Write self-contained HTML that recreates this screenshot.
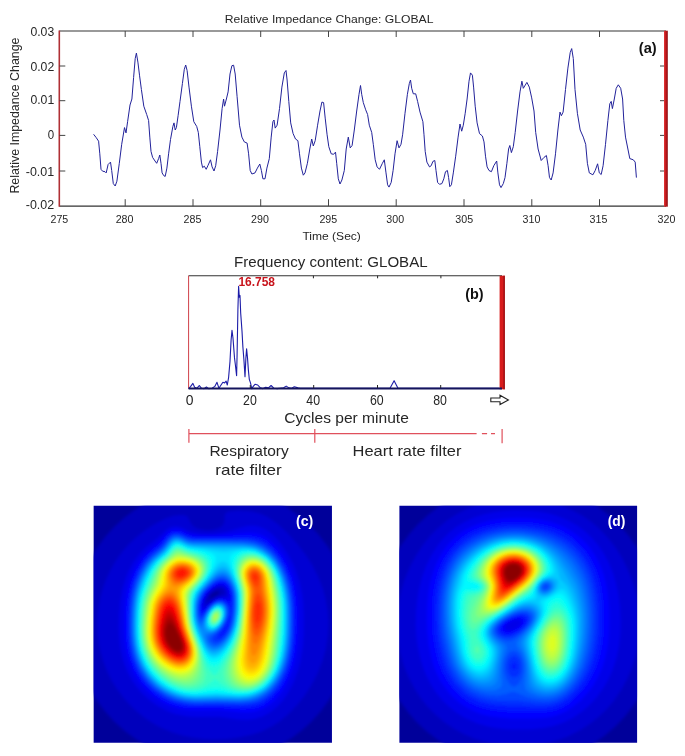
<!DOCTYPE html>
<html lang="en"><head><meta charset="utf-8"><title>EIT figure</title>
<style>html,body{margin:0;padding:0;background:#fff}svg{display:block}</style></head>
<body>
<svg width="685" height="756" viewBox="0 0 685 756" font-family="'Liberation Sans', sans-serif">
<defs><filter id="blur" x="-5%" y="-5%" width="110%" height="110%"><feGaussianBlur stdDeviation="1.6"/></filter><linearGradient id="rb" x1="0" x2="1" y1="0" y2="0"><stop offset="0" stop-color="#e23a3a"/><stop offset="0.45" stop-color="#c4181c"/><stop offset="1" stop-color="#860c10"/></linearGradient></defs>
<rect width="685" height="756" fill="#fff"/>
<g stroke="#777" stroke-width="1.3" fill="none"><line x1="59.3" y1="31" x2="666" y2="31"/></g>
<line x1="59.3" y1="206.2" x2="666" y2="206.2" stroke="#333" stroke-width="1.2"/>
<line x1="59.3" y1="30.5" x2="59.3" y2="206.7" stroke="#b03035" stroke-width="1.6"/>
<rect x="664" y="30.7" width="3.8" height="176.0" fill="url(#rb)"/>
<path d="M125.2 206.2v-7M125.2 31v6M193.0 206.2v-7M193.0 31v6M260.7 206.2v-7M260.7 31v6M328.5 206.2v-7M328.5 31v6M396.2 206.2v-7M396.2 31v6M464.0 206.2v-7M464.0 31v6M531.8 206.2v-7M531.8 31v6M599.5 206.2v-7M599.5 31v6M59.3 66h6M664 66h-4M59.3 100.7h6M664 100.7h-4M59.3 135.4h6M664 135.4h-4M59.3 171h6M664 171h-4" stroke="#444" stroke-width="1" fill="none"/>
<text x="59.4" y="222.9" font-size="11.3" text-anchor="middle" font-weight="normal" fill="#262626" textLength="17.8" lengthAdjust="spacingAndGlyphs">275</text>
<text x="124.6" y="222.9" font-size="11.3" text-anchor="middle" font-weight="normal" fill="#262626" textLength="17.8" lengthAdjust="spacingAndGlyphs">280</text>
<text x="192.5" y="222.9" font-size="11.3" text-anchor="middle" font-weight="normal" fill="#262626" textLength="17.8" lengthAdjust="spacingAndGlyphs">285</text>
<text x="260" y="222.9" font-size="11.3" text-anchor="middle" font-weight="normal" fill="#262626" textLength="17.8" lengthAdjust="spacingAndGlyphs">290</text>
<text x="328.3" y="222.9" font-size="11.3" text-anchor="middle" font-weight="normal" fill="#262626" textLength="17.8" lengthAdjust="spacingAndGlyphs">295</text>
<text x="395.2" y="222.9" font-size="11.3" text-anchor="middle" font-weight="normal" fill="#262626" textLength="17.8" lengthAdjust="spacingAndGlyphs">300</text>
<text x="464.2" y="222.9" font-size="11.3" text-anchor="middle" font-weight="normal" fill="#262626" textLength="17.8" lengthAdjust="spacingAndGlyphs">305</text>
<text x="531.5" y="222.9" font-size="11.3" text-anchor="middle" font-weight="normal" fill="#262626" textLength="17.8" lengthAdjust="spacingAndGlyphs">310</text>
<text x="598.5" y="222.9" font-size="11.3" text-anchor="middle" font-weight="normal" fill="#262626" textLength="17.8" lengthAdjust="spacingAndGlyphs">315</text>
<text x="666.5" y="222.9" font-size="11.3" text-anchor="middle" font-weight="normal" fill="#262626" textLength="17.8" lengthAdjust="spacingAndGlyphs">320</text>
<text x="54.2" y="36.1" font-size="12" text-anchor="end" font-weight="normal" fill="#262626" textLength="23.8" lengthAdjust="spacingAndGlyphs">0.03</text>
<text x="54.2" y="70.5" font-size="12" text-anchor="end" font-weight="normal" fill="#262626" textLength="23.8" lengthAdjust="spacingAndGlyphs">0.02</text>
<text x="54.2" y="104.4" font-size="12" text-anchor="end" font-weight="normal" fill="#262626" textLength="23.8" lengthAdjust="spacingAndGlyphs">0.01</text>
<text x="54.2" y="139.3" font-size="12" text-anchor="end" font-weight="normal" fill="#262626" textLength="6.4" lengthAdjust="spacingAndGlyphs">0</text>
<text x="54.2" y="175.5" font-size="12" text-anchor="end" font-weight="normal" fill="#262626" textLength="28.4" lengthAdjust="spacingAndGlyphs">-0.01</text>
<text x="54.2" y="209.4" font-size="12" text-anchor="end" font-weight="normal" fill="#262626" textLength="28.4" lengthAdjust="spacingAndGlyphs">-0.02</text>
<text x="224.7" y="23.2" font-size="11.3" text-anchor="start" font-weight="normal" fill="#262626" textLength="208.8" lengthAdjust="spacingAndGlyphs">Relative Impedance Change: GLOBAL</text>
<text x="302.4" y="240" font-size="11.3" text-anchor="start" font-weight="normal" fill="#262626" textLength="58.5" lengthAdjust="spacingAndGlyphs">Time (Sec)</text>
<text transform="translate(18.9,193.6) rotate(-90)" font-size="12" fill="#262626" textLength="156" lengthAdjust="spacingAndGlyphs">Relative Impedance Change</text>
<text x="638.8" y="53" font-size="15.3" text-anchor="start" font-weight="bold" fill="#111" textLength="17.9" lengthAdjust="spacingAndGlyphs">(a)</text>
<polyline fill="none" stroke="#22229a" stroke-width="1" stroke-linejoin="round" points="93.6,134.3 96.2,137.6 98.6,141.2 99.8,153.8 101.0,169.3 102.6,171.2 105.0,171.7 106.2,172.9 108.1,164.5 110.5,162.1 111.7,170.5 113.3,183.6 115.2,186.0 116.9,181.2 119.3,163.3 121.7,144.3 124.5,127.6 126.0,132.9 127.6,121.7 130.0,105.0 131.9,99.0 133.6,77.6 135.2,58.6 136.4,53.1 137.9,62.1 139.5,75.2 141.4,89.5 143.8,106.2 146.7,114.5 148.6,120.5 149.8,137.1 151.0,151.4 152.6,157.4 155.0,161.0 156.7,163.3 158.6,158.6 159.8,155.0 161.0,163.3 162.1,172.9 163.8,175.7 165.2,176.4 166.9,168.1 168.6,153.8 170.5,139.5 172.9,126.4 174.0,122.9 175.2,130.0 176.4,127.6 178.1,115.7 180.0,101.4 182.4,83.6 184.3,69.3 185.7,65.0 187.1,70.5 189.0,87.1 191.4,106.2 193.8,121.7 196.7,126.4 198.3,132.4 199.8,146.7 201.4,162.1 202.6,167.6 204.3,166.2 206.2,169.3 208.1,165.2 210.5,159.8 212.1,166.9 214.0,171.0 215.7,165.7 217.6,151.4 220.0,130.0 222.1,108.6 223.6,99.0 224.5,106.2 226.4,99.0 228.1,91.9 230.0,74.0 231.9,65.7 233.6,65.2 235.2,74.0 237.1,96.7 239.5,125.2 241.9,137.1 244.3,141.9 247.1,143.1 248.6,153.8 250.2,170.5 251.9,174.0 255.0,172.9 257.4,168.1 259.8,164.0 261.4,170.5 262.9,178.8 265.0,178.8 266.9,168.1 269.3,158.6 271.2,137.1 272.9,121.7 274.0,120.0 275.2,128.1 277.1,125.2 279.5,108.6 281.9,87.1 284.3,72.9 286.0,70.5 287.1,80.0 288.8,101.4 290.7,122.9 293.1,133.6 295.5,139.0 297.9,140.7 299.5,153.8 301.4,168.1 303.3,175.2 305.0,172.9 307.4,163.3 309.8,149.0 311.7,139.0 313.3,146.0 315.2,140.7 317.6,125.2 320.0,111.0 321.9,102.1 323.6,102.6 325.2,118.1 327.1,134.8 328.8,146.7 331.2,153.8 333.6,154.3 335.5,152.1 336.7,163.3 338.3,178.8 340.0,184.0 341.9,180.0 344.3,170.5 346.2,149.0 348.3,137.1 350.2,147.9 352.1,145.5 354.3,130.0 356.7,111.0 359.0,94.3 360.5,85.5 361.7,94.3 363.3,102.6 365.7,109.8 367.6,114.5 369.3,125.2 371.7,132.4 373.3,144.3 375.2,159.8 377.1,166.9 379.5,169.3 382.4,163.3 384.3,159.8 386.0,172.9 387.6,184.8 389.0,187.1 391.2,182.4 393.1,170.5 395.0,153.8 397.1,140.7 399.0,147.9 401.0,144.3 402.6,134.8 405.0,113.3 407.4,94.3 409.3,83.6 410.5,80.0 411.7,88.3 413.3,93.8 415.7,93.8 417.6,101.4 420.0,112.1 422.9,121.7 424.0,134.8 425.2,151.4 426.9,162.1 429.5,166.9 431.2,165.7 432.9,161.4 434.8,160.5 436.0,170.5 437.6,182.4 439.5,184.3 441.9,183.6 443.8,178.8 445.5,171.7 447.4,170.5 448.6,177.6 449.8,186.7 451.4,184.8 453.3,172.9 455.7,156.2 458.1,137.1 460.0,124.0 461.7,131.2 463.3,125.2 465.2,113.3 467.1,99.0 469.0,81.2 470.5,72.9 472.4,75.2 473.6,87.1 475.2,106.2 477.1,122.9 479.5,133.6 482.4,136.0 484.0,141.9 485.5,156.2 487.1,166.9 489.0,170.5 491.4,171.7 493.8,165.7 496.7,161.0 497.9,172.9 499.5,184.8 501.0,187.6 503.3,183.6 505.0,177.6 506.9,163.3 508.6,149.0 509.8,145.5 511.4,152.6 513.3,146.7 515.2,132.4 517.6,111.0 520.0,91.9 521.9,81.2 523.3,88.3 526.9,82.4 529.3,87.1 531.7,97.9 534.0,111.0 535.7,132.4 538.1,149.0 541.2,160.5 544.0,157.4 546.4,155.5 548.1,165.7 549.5,177.6 551.2,180.0 553.1,172.9 555.5,153.8 557.9,130.0 560.0,112.1 561.4,115.7 563.1,112.1 565.5,89.5 567.9,68.1 570.2,52.6 571.7,48.6 573.3,58.6 575.0,89.5 577.4,113.3 580.2,130.0 583.3,137.1 585.7,144.3 587.4,163.3 589.3,172.9 592.9,174.8 595.2,170.5 597.6,163.8 599.3,172.9 601.2,174.5 603.1,165.7 605.5,144.3 607.9,120.5 609.8,103.8 611.2,101.4 612.4,108.6 614.3,99.0 616.2,88.3 618.3,84.8 620.7,88.3 622.6,99.0 623.8,120.5 625.5,137.1 627.9,149.0 629.8,158.6 633.3,159.8 635.2,162.1 636.4,177.6"/>
<line x1="188.6" y1="275.7" x2="502" y2="275.7" stroke="#333" stroke-width="1.1"/>
<line x1="188.6" y1="275.7" x2="188.6" y2="388.5" stroke="#d04048" stroke-width="1"/>
<rect x="499.6" y="275.7" width="5.2" height="113.60000000000001" fill="#d81c1c"/><rect x="503.4" y="275.7" width="1.4" height="113.60000000000001" fill="#9c1214"/>
<polyline fill="none" stroke="#1c1ca8" stroke-width="1.1" stroke-linejoin="round" points="188.6,388.8 190.7,386.4 192.9,383.4 194.6,387.3 197.0,388.2 199.3,385.5 201.4,388.2 204.1,388.6 206.4,387.0 208.6,388.6 212.1,388.2 214.8,386.4 217.0,382.3 218.9,388.2 220.7,385.5 222.9,382.3 224.6,382.9 226.1,381.1 227.3,385.0 228.6,377.5 230.0,361.4 231.1,340.0 232.0,330.2 233.0,338.2 234.5,357.9 235.4,365.0 236.6,375.7 237.1,354.3 237.9,309.6 238.6,286.4 239.3,297.1 240.0,295.4 240.7,313.2 242.0,331.1 242.9,347.1 243.9,359.6 245.0,376.6 245.9,357.9 246.6,348.9 247.5,357.9 248.4,370.4 249.3,379.3 250.5,382.9 251.8,388.8 253.2,386.4 255.0,384.3 257.7,385.0 260.4,387.9 263.0,388.6 265.7,387.3 268.4,387.9 271.1,385.5 273.8,388.2 277.3,388.6 280.0,388.2 283.6,387.7 286.2,386.1 288.9,387.9 291.6,388.2 294.3,386.8 297.9,387.9 300.0,388.2 388,388.3 390,388.3 394.1,380.7 398,388.3 499,388.3"/>
<line x1="188.6" y1="388.5" x2="502" y2="388.5" stroke="#14145c" stroke-width="1.8"/>
<path d="M250.3 388v-3M313.7 388v-3M377.5 388v-3M440.7 388v-3M313.4 275.7v2.6M377.6 275.7v2.6M440.9 275.7v2.6" stroke="#222" stroke-width="1" fill="none"/>
<text x="238.4" y="286" font-size="12.2" text-anchor="start" font-weight="bold" fill="#c8141c" textLength="36.6" lengthAdjust="spacingAndGlyphs">16.758</text>
<text x="465.2" y="299.3" font-size="15.3" text-anchor="start" font-weight="bold" fill="#111" textLength="18.4" lengthAdjust="spacingAndGlyphs">(b)</text>
<text x="234.1" y="267" font-size="14.8" text-anchor="start" font-weight="normal" fill="#262626" textLength="193.5" lengthAdjust="spacingAndGlyphs">Frequency content: GLOBAL</text>
<text x="189.7" y="405.3" font-size="13.9" text-anchor="middle" font-weight="normal" fill="#262626">0</text>
<text x="249.9" y="405.3" font-size="13.9" text-anchor="middle" font-weight="normal" fill="#262626" textLength="13.7" lengthAdjust="spacingAndGlyphs">20</text>
<text x="313.2" y="405.3" font-size="13.9" text-anchor="middle" font-weight="normal" fill="#262626" textLength="13.7" lengthAdjust="spacingAndGlyphs">40</text>
<text x="376.8" y="405.3" font-size="13.9" text-anchor="middle" font-weight="normal" fill="#262626" textLength="13.7" lengthAdjust="spacingAndGlyphs">60</text>
<text x="440.1" y="405.3" font-size="13.9" text-anchor="middle" font-weight="normal" fill="#262626" textLength="13.7" lengthAdjust="spacingAndGlyphs">80</text>
<text x="284.3" y="422.8" font-size="14.6" text-anchor="start" font-weight="normal" fill="#262626" textLength="124.5" lengthAdjust="spacingAndGlyphs">Cycles per minute</text>
<path d="M490.8 398h9.2v-2.8l8.4 4.7-8.4 4.7v-2.8h-9.2z" fill="#fff" stroke="#222" stroke-width="1.1" stroke-linejoin="miter"/>
<path d="M188.9 433.6H476.6M481.9 433.6h5.2M491 433.6h4M188.9 429.1v13.7M314.8 429.1v13.7M502.1 429.1v14.2" stroke="#e0505c" stroke-width="1.2" fill="none"/>
<text x="209.4" y="456.4" font-size="14.6" text-anchor="start" font-weight="normal" fill="#262626" textLength="79.4" lengthAdjust="spacingAndGlyphs">Respiratory</text>
<text x="215.2" y="474.6" font-size="14.6" text-anchor="start" font-weight="normal" fill="#262626" textLength="66.5" lengthAdjust="spacingAndGlyphs">rate filter</text>
<text x="352.6" y="456.4" font-size="14.6" text-anchor="start" font-weight="normal" fill="#262626" textLength="108.8" lengthAdjust="spacingAndGlyphs">Heart rate filter</text>
<clipPath id="hcc"><rect x="93.65" y="505.65" width="238.3" height="237.1"/></clipPath>
<g clip-path="url(#hcc)"><rect x="73.65" y="485.65" width="278.3" height="277.1" fill="#00009a"/><g filter="url(#blur)">
<path fill="#0000bc" fill-rule="evenodd" d="M255.3 755.8L170.3 755.8L160.6 752.3L148.5 746.7L136.4 739.6L125.4 731.6L114.6 722.0L105.8 712.3L98.4 702.7L91.0 690.6L85.1 678.5L80.6 666.5L80.6 581.9L84.1 572.3L89.7 560.2L96.8 548.2L104.8 537.2L114.5 526.5L124.2 517.7L133.9 510.4L146.1 503.0L158.2 497.1L170.3 492.6L257.0 492.6L265.0 495.5L274.7 499.9L286.8 507.0L298.9 515.7L308.6 524.1L318.3 534.3L327.2 545.7L334.6 557.8L340.5 569.9L345.0 581.9L345.0 666.5L341.5 676.1L335.9 688.2L328.8 700.2L320.8 711.2L311.1 721.9L301.4 730.7L291.7 738.0L279.5 745.5L267.4 751.4ZM209.2 598.9L218.5 594.0L219.5 591.6L216.4 591.3L211.8 594.0L210.0 596.4Z"/>
<path fill="#0000d3" fill-rule="evenodd" d="M226.1 738.9L214.0 739.4L204.3 739.1L192.2 737.6L182.5 735.5L172.8 732.5L163.1 728.5L155.1 724.4L146.1 718.7L137.8 712.3L130.0 705.1L123.5 697.8L117.0 689.1L111.9 680.9L107.1 671.3L103.3 661.6L100.5 652.0L98.5 642.3L97.4 632.6L97.1 620.6L97.9 610.9L99.9 598.9L102.5 589.2L106.0 579.5L110.5 569.9L116.2 560.2L121.8 552.3L129.1 543.9L136.4 536.9L146.1 529.4L154.7 524.0L165.5 518.5L172.8 516.0L180.0 514.9L184.9 515.3L187.5 516.8L191.3 524.0L193.5 526.4L198.1 528.8L206.7 530.2L211.6 530.0L216.4 529.1L221.7 526.4L223.7 524.0L224.5 521.6L224.7 514.4L226.1 512.8L228.6 511.6L238.3 510.5L250.4 511.2L260.1 513.5L267.4 516.8L277.1 523.4L285.7 531.3L296.7 543.3L306.1 555.4L312.3 565.1L318.3 576.9L323.0 589.2L325.6 598.7L327.7 610.9L328.5 623.0L328.0 635.1L325.7 649.5L322.2 661.6L317.4 673.7L311.0 685.8L304.7 695.4L297.1 705.1L287.7 714.7L279.5 721.4L269.8 727.6L260.1 732.0L250.4 735.0L238.3 737.4ZM206.8 603.7L216.4 597.3L224.3 594.0L224.7 591.6L223.7 589.8L221.3 588.2L218.9 588.0L215.2 589.2L211.6 591.5L209.0 594.0L206.0 598.9L205.4 601.3L206.5 603.7Z"/>
<path fill="#0000e9" fill-rule="evenodd" d="M248.0 719.7L238.3 719.4L218.9 716.7L197.0 716.9L187.3 716.4L175.2 713.9L167.9 711.2L158.2 706.2L153.4 702.9L148.5 699.2L141.8 693.0L137.6 688.2L132.4 680.9L128.4 673.7L125.2 666.4L122.8 659.2L120.5 649.5L119.1 637.5L118.7 627.8L119.0 615.8L120.2 601.3L122.4 589.2L125.2 579.5L128.0 572.3L133.0 562.6L140.1 553.0L146.1 547.0L158.2 537.5L165.5 530.3L170.3 527.3L175.2 526.3L177.6 526.4L182.5 527.7L189.4 531.3L192.2 532.1L199.5 533.4L209.2 533.8L216.4 533.3L228.3 531.3L240.7 527.4L248.0 525.8L255.3 525.8L260.1 526.9L265.0 529.1L269.8 532.2L274.7 536.5L278.7 540.9L284.1 548.2L288.7 555.4L292.5 562.6L295.7 569.9L299.6 582.0L302.1 594.0L303.3 603.7L303.9 618.2L303.7 635.1L302.8 647.1L300.4 661.6L297.8 671.3L293.2 683.3L288.1 693.0L283.1 700.2L277.1 706.8L269.8 712.6L262.5 716.5L255.3 718.8ZM206.5 606.1L211.6 601.8L216.4 598.8L218.9 597.7L226.6 596.4L227.6 594.0L227.3 591.6L226.1 589.0L223.7 586.7L221.3 585.9L218.9 586.0L216.4 586.7L211.6 589.7L207.3 594.0L204.3 598.9L203.2 603.7L203.5 606.1L204.3 607.2Z"/>
<path fill="#0001ff" fill-rule="evenodd" d="M248.0 712.4L240.7 712.2L218.9 710.0L197.0 710.6L189.7 710.3L180.0 708.9L170.3 705.9L165.5 703.7L158.2 699.6L150.9 694.3L146.1 689.8L140.5 683.3L137.1 678.5L133.0 671.3L130.9 666.4L127.6 656.8L125.6 647.1L124.7 639.9L124.3 630.2L124.5 615.8L125.2 603.7L127.1 591.6L129.6 582.0L132.2 574.7L135.6 567.5L141.9 557.8L148.5 550.9L158.2 543.0L166.7 533.7L170.3 531.0L172.8 530.0L175.2 529.5L180.0 530.1L189.7 534.4L199.5 535.7L216.4 535.7L248.0 532.6L255.3 533.0L260.1 534.2L265.0 536.5L269.8 539.9L277.1 547.3L281.4 553.0L285.9 560.2L290.4 569.9L293.0 577.1L296.0 589.2L297.6 601.3L298.2 613.3L298.1 632.6L297.3 644.7L295.6 656.8L292.6 668.9L290.0 676.1L285.6 685.8L281.0 693.0L274.7 700.5L269.8 704.7L262.5 709.1L255.3 711.5ZM205.5 608.5L211.6 602.9L216.4 599.7L221.3 598.6L228.6 599.3L229.6 596.4L229.6 594.0L228.6 589.9L226.1 586.3L223.7 584.6L221.3 584.1L218.9 584.3L214.0 586.4L207.9 591.6L204.3 596.4L201.7 603.7L201.9 609.1L204.3 609.7Z"/>
<path fill="#0017ff" fill-rule="evenodd" d="M252.8 707.7L243.1 708.5L218.9 707.0L192.2 707.3L182.5 706.2L175.2 704.3L167.9 701.5L163.1 699.1L155.8 694.4L150.9 690.4L146.3 685.8L142.2 680.9L137.4 673.7L134.9 668.9L132.0 661.6L129.8 654.4L128.0 644.7L127.1 635.1L127.0 620.6L127.7 606.1L128.5 598.9L130.9 586.8L133.1 579.5L137.2 569.9L143.3 560.2L149.9 553.0L160.6 544.0L167.9 535.3L172.8 532.3L175.2 531.8L180.0 532.3L188.4 536.1L194.6 537.2L211.6 537.5L245.6 536.3L252.8 536.7L257.7 537.7L262.5 539.6L267.4 542.5L273.7 548.2L281.3 557.8L286.5 567.5L290.2 577.1L292.8 586.8L294.7 598.9L295.3 606.1L295.6 623.0L295.2 637.5L293.5 652.0L292.1 659.2L290.3 666.4L285.7 678.5L281.7 685.8L277.1 692.4L272.1 697.8L265.0 703.2L257.7 706.5ZM204.8 610.9L211.6 603.9L216.4 600.7L218.9 599.9L221.3 599.7L223.7 600.1L228.6 603.0L231.0 601.9L231.4 596.4L230.6 591.6L228.6 586.9L226.1 584.2L223.7 582.8L221.3 582.4L216.4 583.6L211.6 586.7L206.5 591.6L204.3 594.5L202.0 598.9L200.4 606.1L200.9 610.9L201.9 612.9L204.3 611.7Z"/>
<path fill="#002eff" fill-rule="evenodd" d="M250.4 705.2L243.1 705.8L218.9 704.9L194.6 705.2L184.9 704.4L175.2 702.0L167.9 699.2L163.1 696.7L153.4 689.8L144.7 680.9L139.7 673.7L137.1 668.9L133.2 659.2L130.7 649.5L129.6 642.3L129.0 632.6L128.9 620.6L129.6 606.1L130.7 596.4L132.8 586.8L135.1 579.5L138.2 572.3L142.2 565.1L145.6 560.2L150.9 554.5L160.6 546.4L167.9 537.6L170.3 535.4L172.8 534.1L175.2 533.5L180.0 534.1L187.3 537.3L192.2 538.6L209.2 539.0L245.6 538.6L252.8 539.3L257.7 540.5L265.0 543.9L269.8 547.5L273.0 550.6L280.5 560.2L285.5 569.9L288.3 577.1L290.9 586.8L292.6 596.4L293.4 606.1L293.7 623.0L293.3 637.5L292.3 647.1L290.1 659.2L287.3 668.9L283.2 678.5L279.0 685.8L274.7 691.5L269.8 696.3L262.5 701.4L257.7 703.5ZM220.4 637.5L223.7 635.2L226.1 632.1L228.6 627.6L231.0 618.7L232.7 598.9L231.8 591.6L231.0 589.1L228.6 584.7L226.1 582.3L223.7 581.1L221.3 580.8L218.9 581.2L214.0 583.6L209.2 587.5L205.3 591.6L202.0 596.4L201.0 598.9L199.7 603.7L199.2 608.5L199.9 613.3L201.9 615.6L204.3 613.5L210.2 606.1L214.0 602.8L216.4 601.5L218.9 600.8L221.3 600.6L223.7 601.3L226.9 603.7L229.7 608.5L230.3 613.3L229.8 615.8L228.6 616.8L227.7 620.6L225.1 625.4L218.3 635.1L217.8 637.5L218.9 638.0Z"/>
<path fill="#0044ff" fill-rule="evenodd" d="M250.4 703.1L240.7 703.9L218.9 703.2L194.6 703.6L187.3 703.0L177.6 701.0L172.8 699.4L165.5 696.1L158.2 691.6L153.4 687.7L148.9 683.3L144.9 678.5L140.1 671.3L137.7 666.4L134.8 659.2L132.8 652.0L131.1 642.3L130.4 632.6L130.4 618.2L131.1 606.1L132.2 596.4L134.4 586.8L136.8 579.5L139.9 572.3L145.7 562.6L150.9 556.6L163.1 545.9L168.9 538.5L172.8 535.6L175.2 534.9L177.6 534.9L180.0 535.5L187.3 538.8L192.2 539.9L240.7 540.2L248.0 540.6L255.3 541.9L262.5 544.7L269.8 549.9L276.9 557.8L282.8 567.5L285.9 574.7L288.8 584.4L290.7 594.0L291.9 606.1L292.2 620.6L291.8 635.1L290.8 647.1L288.5 659.2L285.6 668.9L282.5 676.1L278.5 683.3L272.9 690.6L267.4 695.6L262.5 698.9L257.7 701.2ZM221.2 639.9L223.7 637.7L226.1 634.8L228.6 630.8L231.0 624.7L233.4 610.9L233.8 601.3L233.4 594.0L231.0 586.5L228.6 582.7L226.1 580.5L223.7 579.4L221.3 579.2L218.9 579.7L214.0 582.2L209.2 586.2L204.1 591.6L201.9 594.9L200.0 598.9L198.8 603.7L198.3 608.5L198.6 613.3L199.5 616.7L201.9 618.0L211.0 606.1L216.4 602.2L218.9 601.6L221.3 601.6L223.7 602.5L226.1 604.9L227.8 608.5L228.1 610.9L227.7 615.8L227.0 618.2L225.0 623.0L222.1 627.8L213.4 637.5L213.1 639.9L214.0 641.0L216.4 641.7L218.9 641.2Z"/>
<path fill="#005bff" fill-rule="evenodd" d="M252.8 700.8L248.0 701.8L240.7 702.3L216.4 701.8L197.0 702.2L187.3 701.6L177.6 699.5L170.3 696.9L165.5 694.5L155.8 687.9L150.9 683.4L146.6 678.5L140.3 668.9L137.1 661.6L134.7 654.4L132.7 644.7L131.9 637.5L131.6 625.4L132.1 608.5L133.1 598.9L135.1 589.2L137.3 582.0L140.2 574.7L144.0 567.5L147.3 562.6L153.4 556.0L162.6 548.2L168.3 540.9L170.3 538.7L172.8 537.0L175.2 536.2L177.6 536.2L180.0 536.8L187.3 540.1L192.2 541.2L240.7 541.7L248.0 542.2L255.3 543.6L262.5 546.5L269.8 551.8L275.3 557.8L281.4 567.5L285.4 577.1L287.5 584.4L289.4 594.0L290.6 603.7L291.0 618.2L290.6 635.1L289.8 644.7L287.8 656.8L285.8 664.0L283.2 671.3L278.3 680.9L274.7 686.1L269.8 691.4L265.0 695.3L257.7 699.3ZM220.6 642.3L223.7 639.7L226.1 636.9L228.6 633.1L231.0 627.9L233.5 618.2L234.7 603.7L234.5 596.4L233.8 591.6L231.0 584.2L228.6 580.8L226.1 578.7L223.7 577.7L221.3 577.5L218.9 578.1L214.0 580.8L207.2 586.8L203.0 591.6L201.4 594.0L199.1 598.9L198.0 603.7L197.5 608.5L197.6 613.3L198.8 618.2L199.5 620.0L201.9 620.7L207.7 610.9L211.6 606.3L214.0 604.3L216.4 603.0L218.9 602.3L221.3 602.4L223.8 603.7L225.8 606.1L226.7 608.5L227.1 613.3L225.2 620.6L222.7 625.4L218.9 630.2L210.2 637.5L209.9 639.9L211.0 642.3L214.0 644.1L216.4 644.2Z"/>
<path fill="#0072ff" fill-rule="evenodd" d="M248.0 700.3L238.3 701.0L216.4 700.5L194.6 700.9L184.9 699.9L177.6 698.2L167.9 694.3L160.6 690.0L155.8 686.3L150.9 681.7L146.3 676.1L140.4 666.4L137.4 659.2L135.3 652.0L133.5 642.3L132.8 635.1L132.6 625.4L133.1 610.9L134.3 598.9L135.7 591.6L137.7 584.4L140.4 577.1L144.0 569.9L147.0 565.1L153.1 557.8L163.1 549.2L169.6 540.9L172.8 538.3L175.2 537.4L177.6 537.4L180.0 538.0L187.3 541.3L192.2 542.3L240.7 543.0L248.0 543.6L255.3 545.0L262.5 548.1L269.8 553.5L275.7 560.2L281.3 569.9L285.0 579.5L287.5 589.2L289.0 598.9L289.7 608.5L289.8 625.4L289.3 637.5L288.0 649.5L286.0 659.2L283.8 666.4L280.8 673.7L276.8 680.9L271.1 688.2L265.0 693.6L260.1 696.6L255.3 698.6ZM219.7 644.7L223.7 641.6L226.1 638.7L228.6 635.1L231.0 630.3L233.9 620.6L235.5 606.1L235.4 596.4L234.6 591.6L233.2 586.8L231.0 582.2L228.6 578.9L226.1 576.8L223.7 575.9L221.3 575.8L216.4 577.7L211.6 581.4L203.8 589.2L201.9 591.7L199.2 596.4L197.6 601.3L196.7 608.5L196.7 613.3L197.5 618.2L199.5 623.0L201.9 623.8L205.5 615.8L208.4 610.9L211.6 607.0L214.0 605.0L216.4 603.7L218.9 603.0L221.3 603.2L223.7 604.7L224.8 606.1L225.8 608.5L226.2 613.3L225.3 618.2L223.2 623.0L219.9 627.8L216.4 631.3L209.2 635.1L207.3 637.5L207.5 639.9L208.5 642.3L211.6 645.6L214.0 646.3L216.4 646.2Z"/>
<path fill="#0088ff" fill-rule="evenodd" d="M252.8 698.0L248.0 699.1L240.7 699.7L216.4 699.3L197.0 699.8L187.3 699.1L177.6 697.0L170.3 694.2L165.5 691.7L160.6 688.6L155.8 684.7L147.7 676.1L141.7 666.4L138.6 659.2L136.4 652.0L134.9 644.7L133.9 635.1L133.7 623.0L134.3 608.5L135.3 598.9L136.8 591.6L138.9 584.4L141.7 577.1L145.3 569.9L148.3 565.1L153.4 559.1L163.1 550.6L170.3 541.6L172.8 539.5L175.2 538.6L177.6 538.5L180.0 539.1L187.3 542.4L192.2 543.4L243.1 544.4L250.4 545.2L255.3 546.3L262.5 549.4L269.8 555.0L274.4 560.2L279.0 567.5L283.1 577.1L285.3 584.4L287.3 594.0L288.4 603.7L288.8 615.8L288.5 632.6L287.6 644.7L286.0 654.4L283.5 664.0L280.7 671.3L278.4 676.1L273.7 683.3L269.8 687.8L265.0 692.1L257.7 696.3ZM218.8 647.1L221.3 645.5L226.1 640.5L231.0 632.4L234.1 623.0L236.0 610.9L236.1 596.4L235.4 591.6L234.1 586.8L231.0 580.2L228.6 576.9L226.1 574.9L223.7 573.9L221.3 573.9L216.4 576.0L209.2 582.4L202.8 589.2L199.5 593.9L198.3 596.4L196.8 601.3L196.1 606.1L196.0 613.3L197.0 620.4L199.5 626.0L201.9 628.3L206.3 615.8L209.0 610.9L211.6 607.7L214.0 605.6L216.4 604.3L218.9 603.7L221.3 604.1L223.9 606.1L225.1 608.5L225.6 610.9L225.3 615.8L223.7 620.6L221.3 624.9L218.9 628.0L214.0 631.7L209.2 633.1L206.7 633.2L204.9 635.1L205.1 637.5L206.6 642.3L209.2 646.1L211.6 647.8L214.0 648.3L216.4 648.1Z"/>
<path fill="#009fff" fill-rule="evenodd" d="M248.0 697.9L238.3 698.7L216.4 698.1L194.6 698.6L184.9 697.6L177.6 695.8L172.8 694.1L165.8 690.6L160.6 687.2L155.9 683.3L151.1 678.5L147.3 673.7L141.7 664.0L139.6 659.2L137.3 652.0L135.8 644.7L134.8 635.1L134.6 623.0L135.2 608.5L136.0 601.3L137.8 591.6L140.0 584.4L142.8 577.1L146.5 569.9L149.6 565.1L153.6 560.2L164.4 550.6L170.3 543.0L172.8 540.8L175.2 539.7L177.6 539.5L180.0 540.2L187.3 543.5L192.2 544.5L216.4 545.4L243.1 545.6L250.4 546.3L255.3 547.5L262.5 550.7L268.8 555.4L275.0 562.6L279.1 569.9L282.9 579.5L284.9 586.8L286.6 596.4L287.6 606.1L287.8 623.0L287.2 637.5L285.8 649.5L283.8 659.2L281.5 666.4L278.5 673.7L274.1 680.9L269.8 686.2L265.0 690.6L260.1 693.8L255.3 696.0ZM217.4 649.5L221.3 647.3L223.7 645.1L228.6 638.8L231.0 634.4L233.4 628.4L234.9 623.0L236.7 610.9L236.8 596.4L236.2 591.6L234.9 586.8L231.0 578.1L228.6 574.8L226.1 572.7L223.7 571.8L221.3 571.9L218.9 572.7L216.4 574.2L211.6 578.6L201.7 589.2L199.5 592.3L197.4 596.4L196.0 601.3L195.4 606.1L195.5 615.8L196.9 623.0L201.6 632.6L204.3 640.4L206.4 644.7L209.2 648.3L211.6 649.8L214.0 650.3ZM214.0 630.7L211.6 631.5L209.2 631.5L206.4 630.2L205.0 627.8L204.8 625.4L205.3 620.6L208.1 613.3L211.6 608.5L214.0 606.3L216.4 604.9L218.9 604.4L221.3 604.9L223.7 607.3L224.9 610.9L225.0 613.3L224.0 618.2L221.9 623.0L220.2 625.4L216.4 629.3Z"/>
<path fill="#00b5ff" fill-rule="evenodd" d="M252.8 695.6L248.0 696.8L240.7 697.5L216.4 696.8L197.0 697.6L187.3 696.9L180.0 695.4L173.0 693.0L168.0 690.6L163.1 687.6L158.2 683.9L150.4 676.1L146.9 671.3L143.6 665.8L140.7 659.2L138.3 652.0L136.8 644.7L135.9 637.5L135.5 627.8L135.9 613.3L136.7 603.7L138.3 594.0L140.3 586.8L143.0 579.5L146.4 572.3L149.2 567.5L153.4 562.0L165.5 550.7L170.3 544.4L172.8 542.0L175.2 540.8L177.6 540.6L180.0 541.2L187.3 544.5L194.6 545.7L221.3 547.1L243.1 546.8L252.8 547.9L260.1 550.5L267.4 555.4L274.0 562.6L278.2 569.9L281.2 577.1L283.4 584.4L285.4 594.0L286.5 603.7L286.9 615.8L286.5 632.6L285.5 644.7L283.9 654.4L282.1 661.6L279.6 668.9L276.1 676.1L272.9 680.9L268.9 685.8L265.0 689.3L260.1 692.6ZM216.0 652.0L218.9 650.8L223.7 646.9L227.4 642.3L230.4 637.5L233.4 630.7L235.0 625.4L237.1 613.3L237.7 598.9L236.9 591.6L235.9 587.1L233.4 580.7L231.0 575.9L228.6 572.4L226.1 570.2L223.7 569.3L221.3 569.4L218.9 570.4L216.4 572.2L200.7 589.2L198.9 591.6L196.5 596.4L195.2 601.3L194.6 606.1L194.7 615.8L196.1 623.0L197.0 626.2L204.3 643.4L206.7 647.8L209.2 650.5L211.6 651.9L214.0 652.3ZM211.6 630.4L209.2 630.1L206.7 628.0L205.8 625.4L206.0 620.6L207.5 615.8L210.2 610.9L214.0 606.9L216.4 605.5L218.9 605.0L221.3 605.7L223.6 608.5L224.3 610.9L224.1 615.8L222.6 620.6L219.5 625.4L216.4 628.4L214.0 629.8Z"/>
<path fill="#00ccff" fill-rule="evenodd" d="M248.0 695.8L238.3 696.5L216.4 695.6L194.6 696.4L184.9 695.4L177.6 693.6L167.9 689.3L163.1 686.3L158.2 682.5L153.4 677.8L149.9 673.7L146.5 668.9L143.6 663.7L140.8 656.8L138.7 649.5L137.3 642.3L136.6 635.1L136.4 623.0L137.1 608.5L138.3 598.9L139.9 591.6L142.2 584.4L145.2 577.1L148.9 569.9L152.1 565.1L156.3 560.2L165.5 552.0L172.6 543.3L175.2 541.9L177.6 541.6L180.0 542.2L187.3 545.6L192.2 546.7L223.7 549.2L245.6 548.1L250.4 548.5L255.3 549.6L262.5 552.9L267.4 556.5L272.9 562.6L277.2 569.9L280.2 577.1L283.0 586.8L284.8 596.4L285.7 606.1L285.9 618.2L285.4 635.1L284.2 647.1L282.4 656.8L280.4 664.0L277.5 671.3L273.5 678.5L269.8 683.3L265.0 688.0L260.1 691.4L255.3 693.8ZM220.1 652.0L223.7 648.8L228.6 642.5L233.4 632.8L235.7 625.4L236.7 620.6L238.3 606.1L238.0 594.0L235.7 584.4L231.0 573.4L228.6 569.5L226.1 567.2L223.7 566.2L221.3 566.4L218.9 567.6L216.4 569.7L199.7 589.2L197.0 593.2L195.6 596.4L194.5 601.3L194.0 606.1L194.1 615.8L195.3 623.0L197.0 628.7L205.0 647.1L206.7 650.0L209.2 652.6L211.6 654.0L214.0 654.4L216.4 654.0ZM214.0 629.0L211.6 629.4L209.2 628.8L208.1 627.8L206.8 625.4L206.5 623.0L207.2 618.2L209.2 613.3L211.6 609.8L214.0 607.5L216.4 606.1L218.9 605.7L221.3 606.6L222.9 608.5L223.7 610.9L223.6 615.8L222.0 620.6L220.6 623.0L216.4 627.6Z"/>
<path fill="#00e3ff" fill-rule="evenodd" d="M240.7 695.5L216.4 694.1L199.5 695.2L192.2 695.2L182.5 693.8L175.2 691.5L165.5 686.6L160.6 683.1L155.8 678.8L148.5 670.1L144.9 664.0L142.7 659.2L140.2 652.0L138.6 644.7L137.3 630.2L137.5 618.2L138.3 606.1L139.3 598.9L141.0 591.6L146.1 577.8L151.6 567.5L157.6 560.2L165.7 553.0L172.8 544.4L175.2 542.9L177.6 542.7L180.0 543.3L187.3 546.7L189.7 547.4L204.3 549.2L221.3 552.3L226.1 552.3L233.5 550.6L243.1 549.3L250.4 549.6L255.3 550.6L262.5 553.9L267.6 557.8L273.6 565.1L277.5 572.3L280.1 579.5L282.6 589.2L284.2 598.9L285.0 610.9L284.8 627.8L284.1 639.9L282.5 652.0L280.2 661.6L277.6 668.9L273.9 676.1L269.8 681.9L265.0 686.9L260.1 690.3L252.8 693.6L248.0 694.8ZM219.7 654.4L223.7 650.8L226.1 647.9L231.0 640.2L233.4 635.0L236.9 623.0L238.3 614.1L238.9 606.1L238.7 594.0L237.9 589.2L235.9 582.5L231.0 570.2L228.6 565.4L226.1 562.6L223.7 561.4L221.3 561.8L218.9 563.4L216.4 566.1L208.9 577.1L197.0 591.6L195.7 594.0L194.1 598.9L193.3 606.1L193.4 615.8L194.6 623.5L197.0 630.9L204.3 648.2L206.7 652.3L209.2 654.9L211.6 656.3L214.0 656.7L216.4 656.2ZM214.0 628.1L211.6 628.5L209.8 627.8L207.8 625.4L207.3 623.0L207.7 618.2L209.7 613.3L211.6 610.5L214.0 608.1L216.4 606.7L218.9 606.4L221.3 607.5L222.1 608.5L223.1 610.9L223.1 615.8L221.5 620.6L220.0 623.0L216.4 626.8Z"/>
<path fill="#00f9ff" fill-rule="evenodd" d="M250.4 693.3L245.6 694.1L238.3 694.4L216.4 692.4L194.6 694.0L187.3 693.5L180.0 692.0L170.3 688.1L160.6 681.7L152.6 673.7L149.0 668.9L146.0 664.0L142.8 656.8L140.5 649.5L139.1 642.3L138.3 635.1L138.1 625.4L138.8 610.9L139.9 601.3L141.2 594.5L146.1 580.6L149.9 572.3L152.8 567.5L156.5 562.6L166.9 553.0L172.8 545.7L175.2 544.1L177.6 543.7L180.0 544.3L184.9 546.8L189.7 548.5L202.9 550.6L209.2 552.4L210.8 553.0L214.4 555.4L215.7 557.8L215.0 562.6L210.8 572.3L205.9 579.5L197.7 589.2L194.8 594.0L193.3 598.9L192.6 606.1L193.0 618.2L194.4 625.4L196.0 630.2L204.3 650.6L206.7 654.8L209.2 657.5L211.6 658.9L214.0 659.3L216.4 658.8L218.9 657.6L221.3 655.6L226.1 650.0L231.0 642.2L233.4 637.1L235.9 630.2L237.6 623.0L239.3 608.5L239.3 594.0L238.0 586.8L232.3 569.9L230.5 562.6L230.0 557.8L231.1 555.4L234.3 553.0L238.3 551.6L243.1 550.6L250.4 550.6L255.3 551.6L262.5 554.9L267.4 558.7L272.2 564.4L275.5 569.9L278.5 577.1L280.6 584.4L282.6 594.0L283.7 603.7L284.1 615.8L283.6 632.6L282.5 644.7L281.0 654.4L279.2 661.6L276.6 668.9L272.9 676.1L269.8 680.5L265.0 685.7L260.1 689.2L255.3 691.7ZM216.4 626.1L214.0 627.4L211.6 627.6L209.2 626.1L208.0 623.0L207.9 620.6L209.1 615.8L211.9 610.9L214.0 608.7L216.4 607.4L218.9 607.1L221.3 608.4L222.5 610.9L222.6 615.8L220.9 620.6L218.9 623.8Z"/>
<path fill="#11ffee" fill-rule="evenodd" d="M245.6 693.1L235.9 693.1L216.4 690.3L194.6 692.7L187.3 692.3L179.4 690.6L173.2 688.2L168.6 685.8L160.6 680.1L155.8 675.6L152.1 671.3L148.5 666.2L145.9 661.6L143.6 656.5L141.4 649.5L140.0 642.3L139.2 635.1L139.0 625.4L139.5 613.3L140.5 603.7L141.8 596.4L146.1 583.6L151.1 572.3L154.0 567.5L157.8 562.6L165.7 555.4L172.8 547.1L175.2 545.3L177.6 544.8L180.0 545.4L187.3 548.9L204.3 553.0L208.7 555.4L210.8 557.8L211.7 560.2L211.9 562.6L211.2 567.5L208.1 574.7L204.8 579.5L196.7 589.2L193.9 594.0L192.5 598.9L191.9 608.5L192.7 620.6L195.3 630.2L204.3 653.3L206.7 657.8L209.2 660.6L211.6 662.0L214.0 662.5L216.4 661.9L218.9 660.5L221.3 658.4L226.1 652.3L231.0 644.3L233.4 639.2L235.9 632.6L237.7 625.4L239.7 610.9L240.1 596.4L238.7 586.8L233.7 569.9L233.0 562.6L234.0 557.8L235.8 555.4L238.3 553.7L243.1 552.0L248.0 551.6L255.3 552.6L262.5 555.9L267.4 559.8L271.8 565.1L274.6 569.9L277.6 577.1L280.3 586.8L282.0 596.4L282.9 606.1L283.1 618.2L282.4 635.1L281.2 647.1L279.5 656.8L277.5 664.0L274.6 671.3L271.9 676.1L267.4 682.0L262.5 686.5L257.7 689.6L252.8 691.6ZM214.0 626.6L211.6 626.6L209.2 624.4L208.5 620.6L208.8 618.2L210.7 613.3L212.5 610.9L214.0 609.4L216.4 608.0L218.9 607.8L221.3 609.6L221.9 610.9L222.1 615.8L221.3 618.6L218.9 622.9L216.4 625.3Z"/>
<path fill="#27ffd8" fill-rule="evenodd" d="M252.8 690.6L245.6 692.1L238.3 692.1L229.9 690.6L221.3 688.0L216.4 687.1L211.6 687.6L199.7 690.6L194.6 691.1L187.3 690.9L180.0 689.4L175.2 687.6L170.3 685.3L160.6 678.5L153.4 671.1L147.1 661.6L143.9 654.4L142.4 649.5L140.8 642.3L140.1 635.1L139.9 625.4L140.5 613.3L141.5 603.7L142.9 596.4L145.2 589.2L148.5 581.0L152.4 572.3L155.2 567.5L159.0 562.6L166.9 555.4L172.8 548.5L175.2 546.5L177.6 546.0L180.0 546.6L187.3 550.1L201.9 554.1L204.4 555.4L207.3 557.8L209.2 561.4L209.8 565.1L209.5 567.5L208.1 572.3L207.0 574.7L203.8 579.5L195.7 589.2L192.9 594.0L191.4 601.3L191.3 610.9L192.1 620.6L194.6 630.4L204.3 656.4L206.7 661.3L209.2 664.4L211.6 666.1L214.0 666.6L216.4 666.0L218.9 664.4L223.7 658.6L228.6 650.9L233.4 641.4L235.9 635.1L237.9 627.8L240.1 613.3L240.8 598.9L239.9 589.2L236.4 577.1L234.8 569.9L235.0 562.6L236.9 557.8L240.7 554.6L245.4 553.0L250.4 552.7L255.3 553.5L260.1 555.4L265.0 558.6L269.8 563.6L273.8 569.9L276.7 577.1L278.8 584.4L280.7 594.0L281.8 603.7L282.1 613.3L281.8 627.8L280.9 639.9L279.4 652.0L277.9 659.2L275.6 666.4L272.3 673.7L269.8 677.6L267.2 680.9L262.5 685.4L257.7 688.5ZM214.0 625.8L211.6 625.7L209.4 623.0L209.1 620.6L209.4 618.2L211.3 613.3L213.1 610.9L216.4 608.6L218.9 608.5L221.3 610.9L221.8 613.3L221.3 616.9L218.9 622.1L216.4 624.6Z"/>
<path fill="#3effc1" fill-rule="evenodd" d="M248.0 690.8L243.1 691.1L238.3 690.8L231.0 688.9L224.5 685.8L217.8 680.9L216.4 679.5L214.0 679.2L212.5 680.9L205.9 685.8L199.5 688.4L194.6 689.2L189.7 689.4L184.9 689.0L180.0 687.9L175.2 686.1L170.3 683.7L165.5 680.6L160.6 676.8L153.4 669.2L149.7 664.0L147.0 659.2L144.1 652.0L142.7 647.1L141.0 635.1L140.8 625.4L141.4 613.3L142.1 606.1L143.6 597.8L145.5 591.6L148.5 584.2L153.6 572.3L156.4 567.5L160.3 562.6L168.1 555.4L172.8 550.0L175.2 547.9L177.6 547.3L180.0 547.8L187.3 551.3L199.5 554.8L204.3 557.8L206.3 560.2L207.5 562.6L208.0 567.5L207.7 569.9L205.9 574.7L202.8 579.5L194.7 589.2L192.0 594.0L190.7 601.3L190.8 613.3L191.5 620.6L193.2 627.8L200.2 647.1L204.3 660.6L206.7 666.4L209.2 670.4L214.0 675.6L216.4 674.5L218.9 670.9L231.0 648.9L235.9 637.5L238.5 627.8L240.6 613.3L241.4 598.9L240.5 589.2L236.6 574.7L235.9 569.9L236.2 565.1L237.7 560.2L240.7 556.6L245.6 554.3L250.4 553.8L255.3 554.5L260.1 556.3L265.0 559.6L269.8 564.8L272.9 569.9L275.9 577.1L278.4 586.8L280.1 596.4L281.0 606.1L281.1 618.2L280.4 632.6L279.3 644.7L277.4 656.8L275.5 664.0L273.6 668.9L271.2 673.7L267.4 679.3L262.5 684.2L257.7 687.5L252.8 689.6ZM216.4 623.9L214.0 625.0L211.6 624.7L210.3 623.0L209.7 620.6L209.9 618.2L211.6 613.7L214.0 610.7L216.4 609.3L218.9 609.3L220.4 610.9L221.2 613.3L221.1 615.8L219.3 620.6Z"/>
<path fill="#54ffab" fill-rule="evenodd" d="M197.0 686.3L189.7 687.5L184.9 687.2L180.0 686.2L175.2 684.4L170.3 681.9L165.5 678.8L160.6 675.0L153.4 667.3L148.5 659.8L144.3 649.5L142.3 639.9L141.7 627.8L142.6 610.9L144.0 601.3L146.8 591.6L154.9 572.3L157.6 567.5L161.5 562.6L169.4 555.4L172.8 551.6L175.2 549.4L177.6 548.6L180.0 549.2L187.3 552.4L194.6 554.5L199.5 556.5L201.9 558.0L204.1 560.2L205.6 562.6L206.4 565.1L206.4 569.9L204.8 574.7L201.9 579.5L193.7 589.2L192.2 591.6L191.1 594.0L190.1 598.9L190.0 610.9L191.3 623.0L193.3 630.2L200.2 649.5L205.5 673.7L205.2 678.5L204.1 680.9L202.2 683.3ZM252.8 688.5L248.0 689.7L243.1 689.9L238.3 689.3L233.4 687.8L229.7 685.8L227.0 683.3L225.1 680.9L224.0 678.5L223.2 673.7L224.0 668.9L225.5 664.0L233.4 646.3L236.7 637.5L238.7 630.2L240.4 620.6L241.7 606.1L241.8 594.0L240.7 586.8L237.4 574.7L236.9 569.9L237.4 565.1L239.6 560.2L241.7 557.8L245.6 555.7L250.4 554.8L252.8 555.0L257.7 556.2L262.5 558.7L267.4 563.0L272.1 569.9L275.0 577.1L277.9 589.2L279.4 598.9L280.1 610.9L279.8 625.4L278.4 642.3L276.8 654.4L274.4 664.0L270.2 673.7L265.0 680.7L258.7 685.8ZM216.4 623.1L214.0 624.2L211.6 623.5L210.4 620.6L210.5 618.2L211.6 614.8L214.0 611.4L216.4 610.0L218.9 610.2L219.6 610.9L220.6 613.3L220.5 615.8L218.9 620.3Z"/>
<path fill="#6bff94" fill-rule="evenodd" d="M194.6 684.0L192.2 684.8L187.3 685.4L182.5 684.8L177.6 683.5L172.8 681.4L167.9 678.6L160.6 673.1L153.4 665.3L148.5 657.4L145.4 649.5L143.3 639.9L142.6 627.8L143.4 613.3L144.6 603.7L147.2 594.0L156.2 572.3L158.8 567.5L162.8 562.6L172.8 553.2L175.2 551.0L177.6 550.2L180.0 550.6L185.6 553.0L194.6 555.7L199.0 557.8L202.1 560.2L203.9 562.6L205.3 567.5L205.3 569.9L203.8 574.7L200.9 579.5L192.7 589.2L191.2 591.6L190.2 594.0L189.3 598.9L189.4 610.9L190.8 623.0L192.7 630.2L198.7 647.1L200.5 654.4L201.6 664.0L201.8 671.3L201.3 676.1L200.4 678.5L198.8 680.9ZM248.0 688.5L243.1 688.6L239.9 688.2L235.9 686.7L233.4 685.4L231.0 683.3L227.9 678.5L227.1 676.1L226.6 671.3L227.2 666.4L228.5 661.6L235.9 642.8L238.3 635.1L239.9 627.8L241.3 618.2L242.4 603.7L242.4 594.0L241.3 586.8L238.2 574.7L237.9 569.9L238.3 566.8L239.7 562.6L243.1 558.5L245.6 557.1L248.0 556.2L252.8 555.9L257.7 557.1L260.1 558.2L265.0 561.6L269.8 567.4L272.4 572.3L275.4 582.0L277.8 594.0L279.0 606.1L279.0 618.2L277.9 635.1L276.0 652.0L274.0 661.6L271.5 668.9L267.5 676.1L262.5 681.7L260.1 683.7L255.3 686.5ZM214.0 623.4L211.6 622.1L211.0 620.6L211.0 618.2L211.7 615.8L214.0 612.2L216.0 610.9L216.4 610.7L218.9 611.2L219.9 613.3L219.9 615.8L219.3 618.2L216.4 622.2Z"/>
<path fill="#82ff7d" fill-rule="evenodd" d="M192.2 681.6L189.7 682.4L184.9 682.9L177.6 681.4L172.8 679.4L167.9 676.7L160.6 671.2L154.0 664.0L149.4 656.8L145.7 647.1L143.9 637.5L143.6 625.4L144.7 610.9L146.2 601.3L148.5 593.9L153.9 582.0L157.4 572.3L160.0 567.5L164.0 562.6L172.8 554.8L175.2 552.7L177.6 551.8L180.0 552.1L197.0 558.1L200.1 560.2L202.2 562.6L203.5 565.1L204.1 567.5L203.7 572.3L201.6 577.1L198.0 582.0L191.6 589.2L190.2 591.6L188.7 596.4L188.4 601.3L188.8 610.9L190.2 623.0L192.0 630.2L198.0 647.1L199.1 652.0L200.0 659.2L199.9 666.4L198.6 673.7L196.0 678.5ZM252.8 686.3L248.0 687.3L243.1 687.2L238.3 685.8L235.9 684.4L232.4 680.9L231.0 678.5L229.4 673.7L229.2 668.9L229.8 664.0L231.0 659.2L237.0 642.3L239.1 635.1L240.9 625.4L242.1 615.8L243.0 603.7L243.0 594.0L242.0 586.8L239.0 574.7L238.8 569.9L239.1 567.5L240.7 563.3L243.1 560.2L245.6 558.4L248.0 557.4L252.8 556.9L257.7 558.0L260.1 559.1L265.0 562.5L269.0 567.5L271.6 572.3L273.9 579.5L276.4 591.6L277.7 601.3L278.1 610.9L277.6 625.4L276.0 642.3L274.5 654.4L272.2 664.0L269.3 671.3L264.3 678.5L258.8 683.3ZM216.4 621.4L214.0 622.4L211.8 620.6L211.6 618.2L213.8 613.3L216.4 611.5L218.9 612.6L219.4 615.8L218.7 618.2Z"/>
<path fill="#98ff67" fill-rule="evenodd" d="M189.7 679.3L184.9 680.4L177.6 679.3L172.8 677.4L167.9 674.8L160.6 669.3L153.7 661.6L149.4 654.4L146.7 647.1L144.9 637.5L144.5 627.8L145.4 613.3L146.8 603.7L148.8 596.4L155.4 582.0L158.6 572.3L161.1 567.5L163.1 565.0L167.9 560.3L175.2 554.4L177.6 553.4L180.0 553.6L189.7 556.4L197.0 559.4L200.7 562.6L202.1 565.1L202.9 567.5L202.7 572.3L200.7 577.1L197.1 582.0L190.6 589.2L189.1 591.6L187.8 596.4L188.1 610.9L189.6 623.0L191.4 630.2L197.3 647.1L198.9 656.8L198.6 664.0L196.8 671.3L194.0 676.1L192.2 677.9ZM248.0 686.0L244.0 685.8L240.7 684.8L238.0 683.3L235.4 680.9L233.7 678.5L231.9 673.7L231.4 666.4L232.6 659.2L239.9 635.1L241.6 625.4L242.7 615.8L243.7 601.3L243.7 594.0L242.6 586.8L239.7 574.7L239.7 569.9L240.1 567.5L242.5 562.6L245.0 560.2L248.0 558.6L252.8 557.9L257.7 558.9L262.5 561.5L267.4 566.4L270.7 572.3L273.6 582.0L276.1 596.4L277.0 606.1L276.9 618.2L275.8 632.6L273.6 652.0L271.7 661.6L269.2 668.9L265.0 676.1L260.1 681.1L255.3 684.1L250.4 685.7ZM214.0 621.3L213.2 620.6L212.5 618.2L213.1 615.8L214.0 614.2L216.4 612.5L218.0 613.3L218.7 615.8L217.9 618.2L216.4 620.4Z"/>
<path fill="#afff50" fill-rule="evenodd" d="M189.7 676.2L184.9 677.9L182.5 678.0L177.6 677.2L172.8 675.5L167.9 672.9L160.6 667.5L155.2 661.6L150.6 654.4L147.8 647.1L145.8 637.5L145.5 627.8L146.5 613.3L147.9 603.7L150.1 596.4L155.9 584.4L159.8 572.3L162.3 567.5L165.5 563.7L170.3 559.4L175.2 555.9L177.6 555.0L180.0 555.0L187.3 556.7L192.2 558.2L196.2 560.2L199.1 562.6L200.9 565.1L201.7 567.5L202.0 569.9L201.7 572.3L199.8 577.1L197.0 580.9L189.5 589.2L188.1 591.6L186.9 596.4L187.5 610.9L189.0 623.0L190.9 630.2L196.7 647.1L197.6 652.0L198.0 656.8L197.2 664.0L195.7 668.9L192.7 673.7ZM252.8 683.7L248.0 684.5L245.6 684.3L242.1 683.3L238.4 680.9L235.9 677.6L234.2 673.7L233.3 666.4L234.7 656.8L239.0 642.3L241.1 632.6L243.7 610.9L244.3 598.9L244.1 591.6L240.8 577.1L240.3 572.3L240.5 569.9L242.1 565.1L245.6 561.1L248.0 559.8L252.8 558.9L257.7 559.8L262.5 562.4L267.3 567.5L269.9 572.3L272.2 579.5L274.4 591.6L275.6 601.3L276.1 610.9L275.6 623.0L273.6 642.3L272.0 654.4L269.8 664.0L266.8 671.3L262.5 677.3L257.7 681.4ZM216.4 619.0L214.0 619.7L213.4 618.2L214.0 615.5L216.4 613.7L217.6 615.8Z"/>
<path fill="#c5ff3a" fill-rule="evenodd" d="M187.3 674.8L182.5 675.8L180.0 675.7L175.2 674.6L167.9 671.1L160.6 665.7L154.9 659.2L150.7 652.0L148.1 644.7L146.6 635.1L146.5 625.4L147.8 610.9L149.0 603.7L151.3 596.4L157.4 584.4L161.0 572.3L163.5 567.5L165.5 565.0L170.3 560.6L175.2 557.3L177.6 556.4L180.0 556.2L184.9 557.1L189.7 558.4L194.6 560.4L197.6 562.6L199.6 565.1L200.6 567.5L201.0 569.9L200.8 572.3L198.9 577.1L195.1 582.0L188.4 589.2L186.2 594.0L186.1 601.3L188.0 620.6L190.3 630.2L195.4 644.7L196.6 649.5L197.1 654.4L196.5 661.6L194.6 667.3L192.0 671.3L189.7 673.4ZM255.3 681.3L250.4 682.8L248.0 682.9L245.6 682.5L241.9 680.9L239.2 678.5L237.5 676.1L235.7 671.3L235.1 666.4L235.3 661.6L236.2 656.8L239.9 642.3L241.9 632.6L243.4 620.6L244.6 606.1L244.8 591.6L241.5 577.1L241.1 572.3L241.4 569.9L243.1 565.3L245.6 562.5L248.0 560.9L252.8 559.8L257.7 560.7L262.5 563.4L266.3 567.5L269.0 572.3L271.3 579.5L273.0 589.2L274.4 598.9L275.0 608.5L274.8 618.2L273.8 630.2L271.1 652.0L269.2 661.6L266.7 668.9L263.9 673.7L260.1 678.0Z"/>
<path fill="#dcff23" fill-rule="evenodd" d="M182.5 673.8L177.6 673.4L170.3 670.8L163.1 666.0L158.2 661.4L153.4 654.8L150.8 649.5L148.6 642.3L147.4 632.6L148.0 618.2L150.1 603.7L152.6 596.4L158.9 584.4L162.1 572.3L164.6 567.5L169.2 562.6L175.2 558.5L180.0 557.4L187.3 558.6L192.1 560.2L194.6 561.6L198.3 565.1L199.5 567.5L200.0 569.9L199.8 572.3L197.9 577.1L194.6 581.4L187.2 589.2L185.9 591.6L185.0 596.4L187.4 620.6L189.7 630.2L195.4 647.1L196.3 654.4L196.0 659.2L194.6 664.0L191.8 668.9L189.7 670.9L187.3 672.5ZM250.4 681.1L245.6 680.5L243.1 679.2L240.7 677.0L238.7 673.7L237.8 671.3L236.8 664.0L237.6 656.8L242.7 632.6L245.3 603.7L245.4 591.6L244.7 586.8L242.2 577.1L241.9 572.3L242.2 569.9L243.1 567.2L245.6 563.8L248.0 562.0L250.4 561.1L252.8 560.8L257.7 561.6L262.5 564.4L265.4 567.5L268.2 572.3L270.4 579.5L272.7 594.0L273.8 603.7L274.0 613.3L273.2 625.4L270.1 649.5L268.9 656.8L267.2 664.0L263.9 671.3L260.2 676.1L255.3 679.6Z"/>
<path fill="#f2ff0d" fill-rule="evenodd" d="M184.9 671.5L180.0 672.1L172.8 670.4L165.5 666.3L160.0 661.6L155.8 656.5L151.9 649.5L149.6 642.3L148.4 632.6L149.0 618.2L151.2 603.7L153.8 596.4L160.4 584.4L163.2 572.3L165.8 567.5L170.3 562.8L175.2 559.6L180.0 558.5L187.3 559.5L192.2 561.3L194.5 562.6L197.1 565.1L198.4 567.5L199.0 569.9L198.9 572.3L197.0 577.1L194.6 580.3L185.9 589.2L184.7 591.6L184.1 594.0L184.2 598.9L186.8 620.6L189.1 630.2L194.2 644.7L195.3 649.5L195.6 654.4L194.6 660.8L192.2 666.0L189.7 668.8L187.3 670.5ZM252.8 678.8L248.0 679.0L245.6 678.1L242.9 676.1L239.9 671.3L238.6 664.0L239.1 656.8L242.5 639.9L243.9 630.2L246.2 598.9L245.8 589.2L242.9 577.1L242.6 572.3L244.0 567.5L245.7 565.1L249.1 562.6L252.8 561.7L257.7 562.5L262.1 565.1L265.0 568.2L267.4 572.3L269.5 579.5L271.7 594.0L272.8 603.7L273.0 610.9L272.6 620.6L271.5 630.2L268.0 654.4L266.4 661.6L263.7 668.9L260.5 673.7L257.7 676.3Z"/>
<path fill="#fff500" fill-rule="evenodd" d="M184.9 669.9L180.0 670.5L177.6 670.3L172.8 668.8L165.5 664.8L160.6 660.6L155.6 654.4L152.0 647.1L150.1 639.9L149.3 632.6L150.0 618.2L152.3 603.7L155.1 596.4L160.9 586.8L162.0 584.4L164.3 572.3L166.9 567.5L170.3 563.9L175.2 560.7L180.0 559.5L187.3 560.4L192.2 562.3L195.8 565.1L197.3 567.5L198.0 569.9L198.0 572.3L196.1 577.1L192.2 581.8L184.6 589.2L183.4 591.6L183.0 594.0L183.2 598.9L186.6 623.0L188.5 630.2L193.6 644.7L194.8 652.0L194.1 659.2L192.2 663.8L189.7 666.9L187.3 668.7ZM252.8 676.7L250.4 677.0L248.0 676.6L245.6 675.3L243.8 673.7L241.2 668.9L240.2 661.6L240.9 654.4L244.4 632.6L247.0 596.4L246.6 589.2L243.6 577.1L243.4 572.3L245.0 567.5L247.1 565.1L250.4 563.1L252.8 562.6L257.7 563.4L260.1 564.6L263.4 567.5L266.5 572.3L268.5 579.5L271.0 596.4L272.1 610.9L270.7 627.8L267.0 652.0L265.0 661.6L262.5 667.8L260.1 671.6L257.7 674.1L255.3 675.8Z"/>
<path fill="#ffde00" fill-rule="evenodd" d="M182.5 668.9L177.6 668.8L172.8 667.5L165.5 663.3L160.6 659.0L155.8 652.6L153.1 647.1L151.0 639.9L150.2 632.6L150.7 620.6L152.8 606.1L155.8 597.6L161.2 589.2L163.6 584.4L165.4 572.3L167.9 567.7L170.3 565.0L175.2 561.7L180.0 560.4L187.3 561.3L192.2 563.3L194.6 565.2L196.2 567.5L197.0 569.9L197.0 572.3L195.2 577.1L192.2 580.7L185.3 586.8L183.2 589.2L182.1 591.6L181.9 596.4L186.0 623.0L187.9 630.2L193.0 644.7L194.2 652.0L193.8 656.8L193.2 659.2L190.6 664.0L187.3 667.1ZM252.8 674.3L250.4 674.5L248.0 673.8L245.0 671.3L242.7 666.4L242.0 659.2L245.1 635.1L247.7 596.4L247.3 589.2L244.3 577.1L244.2 572.3L245.6 568.4L248.0 565.5L250.4 564.1L252.8 563.6L257.7 564.3L260.1 565.6L262.5 567.7L265.6 572.3L267.6 579.5L270.6 601.3L271.1 610.9L270.7 618.2L269.6 627.8L265.1 654.4L263.3 661.6L260.0 668.9L257.7 671.6L255.3 673.4Z"/>
<path fill="#ffc800" fill-rule="evenodd" d="M184.9 666.9L180.0 667.8L175.2 667.0L167.9 663.6L162.4 659.2L158.2 654.4L154.1 647.1L152.0 639.9L151.2 632.6L151.7 620.6L153.8 606.1L155.3 601.3L157.7 596.4L164.5 586.8L165.3 584.4L165.7 577.1L166.5 572.3L169.2 567.5L171.7 565.1L175.2 562.8L180.0 561.3L184.9 561.6L189.7 563.0L193.0 565.1L195.1 567.5L196.0 569.9L196.1 572.3L195.5 574.7L194.2 577.1L189.7 581.9L183.7 586.8L181.6 589.2L180.6 591.6L180.8 596.4L185.4 623.0L187.4 630.2L192.4 644.7L193.5 652.0L193.0 656.8L191.0 661.6L187.3 665.6ZM252.8 671.6L249.7 671.3L248.0 670.4L246.5 668.9L245.1 666.4L244.4 664.0L243.8 659.2L246.1 635.1L248.5 594.0L247.6 586.8L245.0 577.1L245.0 572.3L245.7 569.9L248.0 566.8L250.4 565.2L252.8 564.5L257.0 565.1L260.1 566.6L263.3 569.9L265.6 574.7L266.7 579.5L269.6 601.3L270.1 610.9L269.7 618.2L268.5 627.8L262.5 658.4L260.1 664.8L257.7 668.5L255.3 670.5Z"/>
<path fill="#ffb100" fill-rule="evenodd" d="M180.0 666.5L175.2 665.8L170.3 663.7L164.0 659.2L159.5 654.4L155.8 648.4L153.5 642.3L152.2 635.1L152.1 627.8L153.2 615.8L154.9 606.1L156.5 601.3L158.2 597.9L166.6 586.8L167.1 584.4L167.1 574.7L168.7 569.9L170.4 567.5L175.2 563.8L177.6 562.8L182.5 562.2L187.3 563.0L191.5 565.1L193.9 567.5L195.0 569.9L195.1 572.3L194.5 574.7L192.2 578.4L189.7 580.9L181.8 586.8L179.7 589.2L178.9 591.6L179.0 594.0L181.9 606.1L184.8 623.0L186.7 630.2L191.8 644.7L192.8 652.0L192.1 656.8L189.7 661.7L187.3 664.1L184.9 665.6ZM255.3 667.0L252.8 668.1L250.4 667.9L248.0 665.9L246.3 661.6L245.8 656.8L247.1 637.5L248.0 612.4L249.4 594.0L249.0 589.2L246.3 579.5L245.6 574.7L245.9 572.3L248.0 568.1L250.4 566.3L252.8 565.5L255.3 565.5L257.7 566.3L260.1 567.7L262.5 570.3L264.7 574.7L265.7 579.5L266.7 589.2L268.5 601.3L269.0 608.5L268.9 615.8L267.7 625.4L262.5 650.7L260.1 659.7L257.7 664.5Z"/>
<path fill="#ff9b00" fill-rule="evenodd" d="M184.9 664.3L180.0 665.3L175.2 664.6L168.9 661.6L163.1 656.9L158.9 652.0L155.8 646.0L153.9 639.9L153.0 632.6L153.1 625.4L154.2 615.8L155.4 608.5L156.7 603.7L158.2 600.3L160.6 596.4L167.8 589.2L169.2 586.8L169.3 584.4L168.1 577.1L168.7 572.3L169.8 569.9L171.7 567.5L174.7 565.1L177.6 563.7L182.5 563.0L187.3 563.9L189.9 565.1L192.7 567.5L193.9 569.9L194.1 572.3L193.5 574.7L192.2 577.1L187.3 581.7L179.4 586.8L177.1 589.2L176.7 591.6L180.5 603.7L184.7 625.4L190.5 642.3L192.1 649.5L191.9 654.4L190.2 659.2L187.3 662.8ZM255.3 662.4L252.8 663.6L250.4 662.6L248.7 659.2L248.0 654.4L248.5 618.2L250.2 594.0L249.9 589.2L247.1 579.5L246.5 574.7L246.8 572.3L248.0 569.6L250.4 567.4L252.8 566.6L255.3 566.5L257.7 567.3L260.1 568.9L262.5 572.0L263.7 574.7L264.8 579.5L265.5 589.2L267.5 601.3L268.0 608.5L267.4 620.1L265.0 633.1L260.1 652.3L257.7 659.0Z"/>
<path fill="#ff8400" fill-rule="evenodd" d="M180.0 584.7L175.2 586.3L172.8 585.5L169.9 579.5L169.4 574.7L169.9 572.3L171.0 569.9L173.0 567.5L177.6 564.7L182.5 563.9L187.3 564.9L189.7 566.2L192.2 568.7L192.8 569.9L193.1 572.3L192.5 574.7L191.0 577.1L187.3 580.6ZM255.3 655.1L252.8 655.9L251.1 652.0L250.4 647.5L249.4 618.2L251.3 591.6L250.4 586.8L247.9 579.5L247.4 574.7L248.0 571.8L250.4 568.7L252.8 567.6L255.3 567.6L257.7 568.4L259.7 569.9L261.6 572.3L262.8 574.7L263.7 579.5L264.2 589.2L266.6 603.7L266.9 610.9L266.2 620.6L264.2 630.2L260.1 644.1L257.7 650.8ZM180.0 664.2L177.6 664.0L172.8 662.5L167.9 659.7L163.1 655.5L160.1 652.0L157.3 647.1L155.4 642.3L154.4 637.5L153.9 630.2L154.3 623.0L155.9 610.9L157.9 603.7L160.4 598.9L163.1 595.7L165.5 593.6L170.3 590.9L172.8 591.0L175.2 593.8L178.7 601.3L180.2 606.1L184.1 625.4L190.0 642.3L191.1 647.1L191.4 652.0L191.1 654.4L189.1 659.2L187.3 661.4L184.9 663.0Z"/>
<path fill="#ff6e00" fill-rule="evenodd" d="M182.5 582.3L177.6 583.6L175.2 583.4L172.8 581.6L170.8 577.1L170.6 574.7L171.1 572.3L172.3 569.9L175.2 567.0L180.0 565.0L184.9 565.1L189.7 567.3L191.6 569.9L192.0 572.3L191.4 574.7L189.7 577.3L187.3 579.5ZM255.3 644.5L252.8 641.7L250.7 627.8L250.4 612.8L252.5 591.6L251.7 586.8L249.0 579.5L248.3 574.7L248.9 572.3L250.4 570.1L252.8 568.8L255.3 568.8L257.7 569.6L260.1 571.9L262.3 577.1L262.8 589.2L265.1 601.3L265.8 610.9L265.0 620.7L262.5 630.8L260.1 637.4L257.7 642.2ZM184.9 661.8L182.5 662.8L177.6 662.9L172.8 661.4L167.9 658.5L163.4 654.4L159.7 649.5L157.3 644.7L155.8 639.9L155.0 635.1L154.8 627.8L155.8 618.1L157.5 608.5L159.2 603.7L160.6 600.8L163.1 597.7L165.5 595.6L167.9 594.4L170.3 593.9L172.8 594.6L175.2 597.0L177.6 601.4L179.8 608.5L184.1 627.8L190.0 644.7L190.8 649.5L190.3 654.4L189.5 656.8L188.0 659.2Z"/>
<path fill="#ff5700" fill-rule="evenodd" d="M184.9 579.9L180.0 581.7L177.6 581.9L175.2 581.1L173.5 579.5L172.3 577.1L171.9 574.7L172.8 571.4L175.2 568.3L177.6 566.8L182.5 565.8L187.3 567.0L189.7 569.1L190.8 572.3L190.2 574.7L188.5 577.1ZM257.7 635.4L255.3 636.1L252.8 631.2L252.3 627.8L251.5 620.6L251.6 610.9L254.3 591.6L254.0 589.2L250.4 580.8L249.5 577.1L249.5 574.7L250.4 572.0L252.8 570.1L255.3 570.0L257.7 571.1L258.9 572.3L260.4 574.7L261.1 577.1L260.8 589.2L263.7 601.3L264.5 608.5L264.3 615.8L262.5 625.2L260.1 631.7ZM182.5 661.6L180.0 662.0L175.2 661.2L170.8 659.2L167.4 656.8L163.1 652.5L160.9 649.5L158.3 644.7L156.7 639.9L155.9 635.1L155.7 627.8L156.8 618.2L158.2 610.2L160.4 603.7L161.9 601.3L165.5 597.6L167.9 596.4L170.3 596.2L172.8 597.1L175.2 599.6L177.3 603.7L178.9 608.5L183.4 627.8L189.4 644.7L190.1 649.5L189.5 654.4L187.3 658.5L184.9 660.6Z"/>
<path fill="#ff4000" fill-rule="evenodd" d="M182.5 579.8L180.0 580.3L177.6 580.2L176.2 579.5L174.0 577.1L173.4 574.7L173.7 572.3L175.1 569.9L177.6 568.0L180.0 567.1L182.5 566.9L185.6 567.5L188.8 569.9L189.6 572.3L188.9 574.7L187.3 576.8ZM257.7 587.1L255.3 586.2L252.8 582.8L251.4 579.5L250.7 577.1L250.8 574.7L252.8 571.8L255.3 571.6L257.7 572.9L258.9 574.7L259.7 577.1L259.5 582.0ZM257.7 629.5L255.3 629.1L254.7 627.8L252.8 620.7L252.6 615.8L252.8 609.0L253.7 603.7L255.3 597.4L257.7 593.3L260.1 596.1L262.0 601.3L262.9 606.1L263.2 610.9L262.9 615.8L261.9 620.6L260.1 626.2ZM184.9 659.4L182.5 660.5L177.6 660.8L172.8 659.1L169.0 656.8L165.5 653.7L162.0 649.5L159.3 644.7L157.7 639.9L156.8 635.1L156.7 627.8L157.8 618.2L159.2 610.9L160.7 606.1L163.1 601.9L165.5 599.6L167.9 598.4L170.3 598.3L172.8 599.4L176.0 603.7L177.9 608.5L182.7 627.8L188.7 644.7L189.4 649.5L188.6 654.4L187.3 657.0Z"/>
<path fill="#ff2a00" fill-rule="evenodd" d="M184.9 577.3L182.5 578.3L180.0 578.7L177.6 578.3L176.1 577.1L175.2 575.4L175.2 572.3L177.0 569.9L180.0 568.4L182.5 568.1L184.9 568.6L187.0 569.9L188.0 572.3L187.5 574.7ZM257.7 580.1L255.3 581.7L253.4 579.5L252.5 577.1L252.8 574.5L255.3 573.8L256.6 574.7L257.9 577.1ZM182.5 659.4L180.0 659.8L175.2 659.1L170.7 656.8L167.9 654.7L165.2 652.0L161.6 647.1L158.6 639.9L157.8 635.1L157.6 627.8L159.8 613.3L161.1 608.5L163.1 604.4L165.5 601.7L167.9 600.5L170.3 600.4L172.8 601.7L175.8 606.1L177.6 611.2L182.0 627.8L188.1 644.7L188.7 649.5L187.7 654.4L184.9 658.1ZM257.7 623.3L255.3 621.4L254.3 613.3L255.3 604.7L257.7 600.6L260.1 602.9L260.9 606.1L261.3 610.9L260.1 619.5Z"/>
<path fill="#ff1300" fill-rule="evenodd" d="M184.9 575.2L182.5 576.7L180.0 577.0L177.6 575.6L177.1 574.7L177.3 572.3L180.0 569.8L182.5 569.5L183.9 569.9L184.9 570.4L186.1 572.3ZM184.9 656.8L182.5 658.2L180.0 658.7L177.6 658.6L172.8 656.9L170.3 655.3L166.5 652.0L163.1 647.6L161.5 644.7L159.6 639.9L158.7 635.1L158.5 630.2L159.1 623.0L160.6 614.7L163.1 607.4L165.5 604.1L167.9 602.7L170.3 602.7L172.8 604.2L175.2 607.8L181.2 627.8L186.7 642.3L187.8 647.1L187.6 652.0L186.7 654.4Z"/>
<path fill="#fc0000" fill-rule="evenodd" d="M182.5 572.3ZM182.5 657.0L180.0 657.6L177.6 657.5L175.0 656.8L170.3 654.1L167.9 652.0L164.0 647.1L160.7 639.9L159.7 635.1L159.5 630.2L160.6 620.4L163.1 610.9L165.5 606.8L167.9 605.1L170.3 605.1L172.8 606.9L175.2 611.2L181.3 630.2L186.0 642.3L187.1 647.1L186.7 652.0L184.9 655.3Z"/>
<path fill="#e50000" fill-rule="evenodd" d="M182.5 655.7L180.0 656.5L177.6 656.4L172.8 654.5L170.3 652.8L165.2 647.1L163.1 643.4L161.7 639.9L160.5 632.6L161.4 623.0L164.0 613.3L165.5 610.2L167.9 607.9L170.3 607.9L173.2 610.9L175.2 614.9L179.5 627.8L185.3 642.3L186.2 647.1L186.2 649.5L184.9 653.5Z"/>
<path fill="#cf0000" fill-rule="evenodd" d="M180.0 655.2L177.6 655.2L175.2 654.5L170.3 651.4L165.5 645.6L162.8 639.9L161.7 632.6L162.2 625.4L163.1 621.0L164.9 615.8L165.5 614.2L167.9 611.3L170.3 611.2L172.8 613.6L175.2 618.7L184.9 643.9L185.3 649.5L184.5 652.0L182.5 654.4Z"/>
<path fill="#b80000" fill-rule="evenodd" d="M182.5 652.6L180.0 653.9L177.6 653.9L172.9 652.0L167.9 647.2L165.0 642.3L163.0 635.1L163.0 627.8L165.5 618.8L167.9 615.3L170.3 615.0L172.8 617.5L175.2 622.2L182.5 639.3L184.1 644.7L184.4 647.1L184.2 649.5Z"/>
<path fill="#a10000" fill-rule="evenodd" d="M180.0 652.3L177.6 652.5L175.2 651.8L171.8 649.5L167.9 645.1L165.3 639.9L164.3 635.1L164.2 630.2L165.5 624.0L167.9 619.7L170.3 619.1L172.8 621.3L175.2 625.5L182.5 642.0L183.3 647.1L182.9 649.5L182.5 650.4Z"/>
<path fill="#8b0000" fill-rule="evenodd" d="M180.0 650.4L177.6 650.8L175.2 650.2L172.8 648.6L169.3 644.7L166.8 639.9L165.7 635.1L165.8 630.2L167.9 624.3L170.3 623.2L172.8 625.0L175.2 628.8L180.5 639.9L181.9 644.7L182.0 647.1L180.9 649.5Z"/>
</g></g>
<clipPath id="hdc"><rect x="399.4" y="505.65" width="237.7" height="237.0"/></clipPath>
<g clip-path="url(#hdc)"><rect x="379.4" y="485.65" width="277.7" height="277.0" fill="#00009a"/><g filter="url(#blur)">
<path fill="#0000bc" fill-rule="evenodd" d="M567.9 755.7L467.5 755.7L461.4 753.2L449.3 747.2L437.2 739.6L426.7 731.5L416.4 721.9L408.0 712.2L399.4 700.2L392.5 688.1L387.1 676.0L386.3 674.1L386.3 574.1L388.0 569.9L393.7 557.8L400.7 545.7L409.5 533.7L418.1 524.0L428.5 514.4L439.6 506.0L451.7 498.7L464.8 492.6L571.7 492.6L575.1 494.1L587.2 500.0L599.3 507.7L609.0 515.2L618.7 524.3L628.9 536.1L637.3 548.1L644.1 560.2L649.5 572.3L650.2 574.1L650.2 674.1L647.4 680.9L641.4 692.9L633.9 705.0L624.5 717.1L615.2 726.7L604.2 736.1L592.1 744.4L577.5 752.1L569.0 755.7Z"/>
<path fill="#0000d3" fill-rule="evenodd" d="M521.9 746.0L509.8 745.8L497.7 744.5L485.6 742.0L473.5 738.2L463.8 734.1L454.1 728.8L444.4 722.3L435.4 714.6L427.5 706.5L420.2 697.4L414.2 688.1L408.0 676.0L404.1 666.4L400.5 654.3L398.2 642.2L397.0 630.2L397.0 618.1L398.5 603.6L401.0 591.6L404.6 579.5L409.6 567.4L416.0 555.4L422.3 545.7L430.0 536.1L437.2 528.7L446.9 520.5L456.5 514.2L466.2 509.2L475.9 505.4L488.0 502.1L500.1 500.0L512.2 499.0L526.7 499.1L538.8 500.3L550.9 502.7L560.6 505.5L572.7 510.4L582.4 515.7L590.9 521.6L599.4 528.8L608.5 538.5L615.9 548.1L621.9 557.8L628.0 569.9L632.7 581.9L636.1 594.0L638.4 606.1L639.5 618.1L639.5 630.2L638.3 642.2L636.0 654.3L632.4 666.4L627.4 678.4L621.1 690.1L614.2 700.2L606.6 709.2L598.5 717.1L589.3 724.3L580.0 730.3L567.9 736.4L558.2 740.0L546.1 743.2L534.0 745.2Z"/>
<path fill="#0000e9" fill-rule="evenodd" d="M531.6 729.2L519.5 729.6L507.4 729.3L497.7 728.3L488.0 726.4L478.3 723.7L471.1 720.8L463.8 717.2L455.9 712.2L449.3 707.0L442.3 700.2L436.4 692.9L431.6 685.7L426.5 676.0L423.5 668.8L419.8 656.7L417.8 647.1L416.4 637.4L415.7 625.4L416.1 610.9L417.3 598.8L419.0 589.2L422.1 577.1L426.5 565.0L431.3 555.4L437.5 545.7L443.3 538.5L449.3 532.6L456.5 526.8L463.8 522.3L473.5 517.7L483.2 514.5L492.8 512.3L502.5 510.9L514.6 510.2L526.7 510.4L538.8 511.5L548.5 513.3L558.2 516.2L567.9 520.2L577.5 525.7L585.0 531.2L592.1 537.9L598.6 545.7L603.5 553.0L608.7 562.6L612.7 572.3L615.7 581.9L618.4 594.0L620.0 606.1L620.7 620.5L620.5 632.6L619.2 644.7L616.8 656.7L613.0 668.8L608.9 678.4L603.4 688.1L596.3 697.7L589.6 705.0L582.4 711.2L572.7 717.9L563.0 722.8L553.3 726.0L543.7 728.0ZM513.4 625.4L512.2 625.0L511.6 625.4L512.2 625.7Z"/>
<path fill="#0001ff" fill-rule="evenodd" d="M548.5 717.4L541.2 718.3L529.1 718.8L512.2 718.7L502.5 718.1L488.0 715.9L480.7 713.9L473.5 711.1L468.6 708.8L461.4 704.2L454.1 698.3L449.3 693.2L445.2 688.1L440.4 680.9L436.7 673.6L433.8 666.4L431.0 656.7L428.6 644.7L427.2 632.6L426.8 620.5L427.1 606.1L428.2 594.0L430.3 581.9L433.0 572.3L435.7 565.0L440.4 555.4L445.1 548.1L451.1 540.9L456.5 535.9L463.8 530.6L471.1 526.7L478.3 523.7L488.0 520.8L497.7 519.0L507.4 518.0L519.5 517.7L531.6 518.3L541.2 519.5L548.5 521.1L558.2 524.2L565.4 527.4L572.7 531.7L580.0 537.2L586.2 543.3L590.2 548.1L595.1 555.4L599.0 562.6L602.9 572.3L605.7 581.9L607.9 594.0L609.2 608.5L609.5 620.5L609.1 632.6L608.0 644.7L605.6 656.7L602.7 666.4L598.6 676.0L593.1 685.7L587.7 692.9L580.0 701.2L572.7 707.1L565.4 711.7L555.8 715.7ZM512.3 630.2L517.0 627.9L519.9 625.4L521.3 622.9L521.0 620.5L519.5 619.7L517.0 619.5L512.3 620.5L508.0 622.9L505.4 625.4L504.4 627.8L504.9 629.1L506.0 630.2L509.8 630.7Z"/>
<path fill="#0017ff" fill-rule="evenodd" d="M553.3 710.2L546.1 711.5L538.8 712.0L504.9 711.3L490.4 709.5L478.3 706.1L468.6 701.5L463.1 697.7L457.5 692.9L453.0 688.1L449.4 683.3L446.3 678.4L442.5 671.2L438.9 661.6L436.5 651.9L434.3 639.8L433.2 630.2L432.8 618.1L433.1 603.6L433.9 594.0L436.0 581.9L438.6 572.3L441.4 565.0L445.0 557.8L449.7 550.6L455.9 543.3L461.4 538.6L468.6 533.8L475.9 530.2L483.2 527.5L492.8 525.0L502.5 523.5L509.8 523.0L521.9 522.9L531.6 523.6L541.2 525.0L550.9 527.5L558.2 530.2L565.4 533.9L572.4 538.5L577.5 542.8L582.4 547.8L586.5 553.0L591.1 560.2L594.6 567.4L598.1 577.1L600.4 586.7L602.2 598.8L602.9 608.5L603.1 622.9L602.5 635.0L601.0 647.1L598.3 659.1L594.9 668.8L590.2 678.4L585.6 685.7L579.8 692.9L572.7 699.9L567.9 703.6L560.6 707.6ZM512.2 632.6L517.3 630.2L522.9 625.4L524.4 622.9L525.0 620.5L523.9 618.1L521.9 617.2L519.5 617.0L514.6 617.8L508.4 620.5L504.9 622.9L502.5 625.4L501.3 627.8L501.4 630.2L502.5 631.7L504.9 633.0L507.4 633.4Z"/>
<path fill="#002eff" fill-rule="evenodd" d="M553.3 705.7L546.1 706.9L538.8 707.2L502.5 705.6L490.4 704.2L480.7 701.7L471.1 697.4L466.2 694.3L461.4 690.3L456.9 685.7L453.2 680.9L450.1 676.0L446.4 668.8L443.7 661.6L441.1 651.9L438.7 639.8L437.6 630.2L437.0 615.7L437.2 603.6L438.3 591.6L440.0 581.9L442.8 572.3L445.6 565.0L448.1 560.2L452.7 553.0L459.0 545.9L463.8 541.8L471.1 537.1L475.9 534.6L483.2 531.7L490.4 529.5L500.1 527.6L507.4 526.9L519.5 526.7L529.1 527.3L536.4 528.4L546.1 530.6L553.3 533.1L560.6 536.5L567.7 540.9L572.7 544.8L577.5 549.5L582.4 555.4L585.6 560.2L589.5 567.4L592.4 574.7L595.2 584.3L597.2 596.4L598.1 606.1L598.5 620.5L598.1 632.6L596.7 644.7L594.7 654.3L592.6 661.6L588.8 671.2L583.5 680.9L578.3 688.1L572.7 694.3L567.9 698.4L560.6 702.9ZM511.4 635.0L514.6 633.8L519.5 630.9L525.2 625.4L526.7 622.9L527.5 620.5L527.4 618.1L525.1 615.7L521.9 615.0L519.5 615.1L512.2 617.1L505.8 620.5L502.6 622.9L500.3 625.4L499.0 627.8L498.7 630.2L500.1 633.1L502.5 634.7L504.9 635.5L507.4 635.7ZM515.7 668.8L516.6 666.4L516.0 664.0L514.6 662.3L512.2 663.5L511.7 666.4L512.2 668.8L514.6 669.9Z"/>
<path fill="#0045ff" fill-rule="evenodd" d="M548.5 702.9L538.8 703.2L517.0 700.6L495.3 700.2L485.6 698.6L478.3 696.5L473.5 694.3L468.6 691.4L461.4 685.2L457.7 680.9L454.3 676.0L450.4 668.8L448.4 664.0L445.5 654.3L442.8 642.2L441.2 632.6L440.4 622.9L440.2 610.9L440.7 598.8L441.9 589.2L443.9 579.5L446.1 572.3L449.2 565.0L453.3 557.8L456.9 553.0L461.5 548.1L468.6 542.5L475.9 538.3L483.2 535.1L490.4 532.8L500.1 530.7L507.4 529.9L514.6 529.6L524.3 530.0L531.6 530.9L538.8 532.3L548.5 535.3L553.3 537.3L560.6 541.1L567.3 545.7L572.7 550.6L577.5 556.0L582.2 562.6L584.9 567.4L588.1 574.7L591.1 584.3L593.0 594.0L594.1 603.6L594.6 615.7L594.5 627.8L593.5 639.8L591.8 649.5L589.4 659.1L585.8 668.8L582.2 676.0L577.7 683.3L571.8 690.5L566.4 695.3L560.6 699.1L555.8 701.2ZM511.2 637.4L514.6 636.2L519.5 633.0L524.3 628.8L527.2 625.4L529.6 620.5L529.8 618.1L529.0 615.7L526.7 614.0L524.3 613.2L519.5 613.4L512.2 615.7L503.7 620.5L498.5 625.4L497.1 627.8L496.6 630.2L497.1 632.6L498.9 635.0L502.5 637.1L504.9 637.8L507.4 638.0ZM517.6 676.0L519.5 673.6L520.7 668.8L520.8 666.4L520.0 661.6L518.9 659.1L517.0 656.8L514.6 655.7L512.2 656.0L509.8 658.0L508.0 661.6L507.1 666.4L507.8 671.2L509.8 675.3L512.2 677.3L514.6 677.7Z"/>
<path fill="#005bff" fill-rule="evenodd" d="M555.8 697.9L550.9 699.3L546.1 699.8L536.4 699.2L526.7 697.0L514.6 692.1L512.2 692.1L504.9 694.3L497.7 695.4L488.0 694.9L480.7 693.3L473.5 690.3L466.2 685.4L459.7 678.4L453.8 668.8L450.8 661.6L448.7 654.3L445.0 637.4L443.7 627.8L443.0 618.1L443.0 606.1L443.6 596.4L445.0 586.7L447.4 577.1L450.0 569.9L453.6 562.6L456.7 557.8L461.4 552.2L466.2 547.8L471.1 544.3L478.3 540.2L485.6 537.1L492.8 534.8L500.1 533.2L507.4 532.3L514.6 532.0L524.3 532.5L538.8 535.3L546.1 537.7L553.0 540.9L558.2 543.9L564.2 548.1L569.5 553.0L573.9 557.8L579.0 565.0L582.4 571.2L585.8 579.5L587.9 586.7L589.7 596.4L590.8 606.1L591.3 615.7L591.1 627.8L590.0 639.8L588.4 649.5L585.9 659.1L583.4 666.4L580.1 673.6L575.9 680.9L570.3 687.9L565.4 692.4L560.6 695.7ZM546.8 589.2L548.7 586.7L547.4 584.3L546.1 583.9L543.7 584.9L542.7 586.7L543.7 589.4L546.1 589.6ZM513.0 639.8L514.6 639.1L521.9 633.2L526.7 628.2L529.1 625.0L531.4 620.5L531.8 618.1L531.6 615.7L529.1 612.8L526.7 611.8L521.9 611.5L517.0 612.5L512.2 614.4L501.9 620.5L497.7 624.4L495.4 627.8L494.8 630.2L495.3 633.3L497.7 636.6L500.1 638.3L504.9 640.4L507.4 640.9L509.8 641.0ZM515.6 685.7L517.0 685.0L519.5 682.2L521.9 677.3L523.2 671.2L523.4 666.4L522.0 659.1L519.5 654.4L517.0 652.0L514.6 650.7L512.2 650.7L509.8 652.1L508.1 654.3L505.7 659.1L504.5 664.0L504.4 671.2L504.9 674.3L506.4 678.4L509.8 684.0L512.2 686.0L514.6 686.5Z"/>
<path fill="#0072ff" fill-rule="evenodd" d="M553.3 695.8L546.1 696.8L541.2 696.5L536.4 695.6L529.1 692.6L526.6 690.5L525.0 688.1L524.5 683.3L525.6 668.8L524.8 661.6L521.9 653.3L517.7 647.1L516.5 644.7L516.9 642.2L518.2 639.8L528.8 627.8L531.6 623.6L533.0 620.5L533.6 618.1L533.6 615.7L532.7 613.3L531.6 612.0L529.1 610.5L526.7 609.9L521.9 610.0L517.0 611.2L512.2 613.2L507.4 615.8L500.2 620.5L495.3 625.4L493.8 627.8L493.1 630.2L493.2 632.6L494.1 635.0L497.7 639.1L505.6 644.7L506.7 647.1L506.4 649.5L503.1 659.1L502.0 664.0L501.5 671.2L502.1 683.3L501.6 685.7L499.9 688.1L495.3 690.3L488.0 690.8L480.7 689.6L473.5 686.7L468.6 683.5L463.8 679.0L459.7 673.6L455.6 666.4L452.9 659.1L451.0 651.9L447.3 635.0L446.0 625.4L445.4 613.3L445.5 603.6L446.3 594.0L447.5 586.7L449.2 579.5L451.7 572.3L455.1 565.0L459.0 559.1L463.8 553.5L468.6 549.2L473.6 545.7L480.7 541.7L488.0 538.7L495.3 536.4L502.5 534.9L509.8 534.2L517.0 534.2L524.3 534.7L531.6 535.9L538.8 537.9L543.7 539.7L551.0 543.3L558.2 548.0L563.0 552.0L568.7 557.8L572.6 562.6L575.8 567.4L579.7 574.7L582.7 581.9L584.8 589.2L586.6 598.8L587.8 608.5L588.2 618.1L588.0 627.8L586.9 639.8L585.3 649.5L583.6 656.7L580.4 666.4L577.1 673.6L572.8 680.9L567.9 686.8L563.0 691.1L558.2 694.0ZM549.2 589.2L550.3 586.7L549.9 584.3L548.5 583.1L546.1 582.5L543.7 583.4L542.5 584.3L541.1 586.7L541.3 589.2L543.7 591.0L546.1 591.0Z"/>
<path fill="#0088ff" fill-rule="evenodd" d="M553.3 693.1L548.5 693.9L543.7 693.8L536.4 691.9L533.8 690.5L531.0 688.1L529.4 685.7L528.6 683.3L527.6 668.8L526.7 661.6L524.7 654.3L520.8 644.7L520.8 642.2L522.9 637.4L532.0 625.4L534.5 620.5L535.2 618.1L535.4 615.7L535.0 613.3L534.0 611.4L531.6 609.4L529.1 608.4L526.7 608.1L521.9 608.4L517.0 609.9L512.2 612.1L504.9 616.2L498.7 620.5L495.3 623.7L492.4 627.8L491.6 630.2L491.5 632.6L492.2 635.0L495.3 639.3L500.9 644.7L502.2 647.1L502.6 649.5L499.8 664.0L497.8 678.4L497.0 680.9L495.3 683.5L492.8 685.3L490.4 686.1L485.6 686.6L478.3 685.4L473.5 683.3L468.6 680.0L463.8 675.0L459.6 668.8L457.2 664.0L455.4 659.1L453.5 651.9L449.4 632.6L448.1 622.9L447.6 610.9L447.8 601.2L448.9 591.6L450.3 584.3L452.3 577.1L455.2 569.9L459.0 563.2L463.0 557.8L467.8 553.0L473.5 548.5L478.3 545.5L485.6 541.8L492.8 539.1L500.1 537.2L512.2 535.9L519.5 536.1L526.7 536.9L534.0 538.6L540.4 540.9L545.6 543.3L550.9 546.5L556.3 550.6L561.4 555.4L565.6 560.2L570.9 567.4L577.6 579.5L580.4 586.7L582.3 594.0L584.1 603.6L585.1 613.3L585.3 622.9L584.8 632.6L583.8 642.2L582.0 651.9L580.2 659.1L577.8 666.4L574.5 673.6L571.7 678.4L567.9 683.4L563.0 688.1L558.2 691.2ZM548.1 591.6L550.8 589.2L551.9 586.7L551.7 584.3L549.5 581.9L546.1 581.4L543.7 582.2L541.2 584.3L540.1 586.7L540.1 589.2L541.2 591.2L543.7 592.4L546.1 592.3Z"/>
<path fill="#009fff" fill-rule="evenodd" d="M553.3 690.5L546.1 691.2L542.0 690.5L538.8 689.3L536.4 688.0L533.9 685.7L531.3 680.9L528.4 661.6L524.3 647.1L523.7 642.2L525.3 637.4L533.4 625.4L536.7 618.1L537.0 613.3L536.2 610.9L534.0 608.4L531.6 607.1L529.1 606.5L524.3 606.5L519.5 607.6L514.6 609.7L504.9 615.2L497.2 620.5L492.8 624.8L490.9 627.8L490.1 630.2L490.0 632.6L490.5 635.0L492.8 639.1L497.6 644.7L499.1 647.1L499.8 651.9L495.3 673.8L493.1 678.4L490.6 680.9L488.0 682.1L483.2 682.8L478.3 682.1L473.5 680.1L468.6 676.6L465.8 673.6L462.3 668.8L459.7 664.0L457.8 659.1L455.9 651.9L451.8 632.6L450.3 622.9L449.7 613.3L449.8 603.6L450.6 594.0L452.0 586.7L453.8 579.5L456.5 572.3L460.4 565.0L463.9 560.2L468.4 555.4L474.2 550.6L480.7 546.3L488.0 542.7L495.3 540.1L500.1 538.9L507.4 537.7L514.6 537.4L521.9 537.9L529.1 539.2L536.4 541.4L540.8 543.3L546.1 546.2L550.9 549.7L554.6 553.0L559.0 557.8L568.8 572.3L575.5 584.3L578.1 591.6L579.9 598.8L581.7 608.5L582.4 615.7L582.6 622.9L582.2 632.6L581.2 642.2L579.6 651.9L577.8 659.1L575.4 666.4L572.1 673.6L569.1 678.4L565.4 682.9L562.5 685.7L558.2 688.6ZM550.2 591.6L552.4 589.2L553.3 586.7L553.3 584.3L552.1 581.9L550.9 581.1L548.5 580.2L546.1 580.3L543.7 581.2L541.2 583.1L539.1 586.7L538.9 589.2L539.9 591.6L541.2 592.9L543.7 593.7L546.1 593.6Z"/>
<path fill="#00b5ff" fill-rule="evenodd" d="M550.9 688.6L546.1 688.6L543.7 688.1L538.8 685.8L536.4 683.7L534.5 680.9L532.7 676.0L529.5 659.1L526.5 647.1L526.0 642.2L527.3 637.4L537.3 620.5L538.7 615.7L538.8 613.3L538.4 610.9L536.4 607.5L534.0 605.7L531.6 604.8L529.1 604.5L524.3 604.8L519.5 606.2L514.6 608.5L502.7 615.7L495.8 620.5L492.8 623.2L489.5 627.8L488.7 630.2L488.5 632.6L488.9 635.0L490.4 638.4L496.5 647.1L497.4 651.9L496.4 659.1L493.8 668.8L491.7 673.6L490.4 675.5L488.0 677.6L485.6 678.7L480.7 679.2L475.9 678.1L473.5 676.9L469.1 673.6L466.2 670.5L463.4 666.4L461.0 661.6L458.1 651.9L453.5 630.2L452.2 620.5L451.7 610.9L452.0 601.2L452.7 594.0L454.1 586.7L456.1 579.5L458.9 572.3L463.0 565.0L466.7 560.2L471.4 555.4L477.5 550.6L483.2 547.0L490.4 543.5L495.3 541.7L502.5 539.8L509.8 539.0L517.0 538.9L524.3 539.7L529.1 540.8L534.0 542.3L541.2 545.6L548.3 550.6L555.2 557.8L559.8 565.0L573.4 589.2L575.9 596.4L577.8 603.6L579.2 610.9L579.9 618.1L579.6 635.0L578.6 644.7L576.9 654.3L575.0 661.6L572.3 668.8L569.9 673.6L566.7 678.4L563.0 682.5L558.8 685.7L555.8 687.2ZM548.5 594.0L552.1 591.6L554.1 589.2L555.1 586.7L555.3 584.3L554.6 581.9L553.3 580.6L550.9 579.3L548.5 579.0L546.1 579.3L543.7 580.3L541.2 581.9L538.8 585.4L537.9 589.2L538.8 592.5L541.2 594.6L543.7 595.1L546.1 594.9Z"/>
<path fill="#00ccff" fill-rule="evenodd" d="M550.9 686.1L546.1 685.9L543.7 685.2L541.2 684.0L538.8 682.1L536.4 679.0L533.5 671.2L528.9 649.5L528.1 644.7L528.4 639.8L530.3 635.0L538.6 620.5L540.2 615.7L540.6 613.3L540.4 610.9L538.8 606.6L536.4 604.1L534.0 602.9L531.6 602.4L526.7 602.7L521.9 603.9L517.0 606.0L497.6 618.1L491.7 622.9L489.6 625.4L487.3 630.2L487.3 635.0L489.5 639.8L494.1 647.1L494.9 649.5L495.1 654.3L494.3 659.1L492.1 666.4L490.4 669.9L488.0 673.0L485.6 674.8L483.2 675.6L480.7 675.9L475.9 675.0L471.1 672.1L468.6 669.9L465.9 666.4L463.2 661.6L460.2 651.9L455.2 627.8L454.2 620.5L453.8 603.6L454.4 596.4L455.8 589.2L460.1 574.7L463.8 567.6L467.3 562.6L471.7 557.8L477.2 553.0L483.2 548.8L490.4 545.0L497.7 542.4L502.5 541.2L509.8 540.2L517.0 540.2L524.3 541.1L529.1 542.2L536.4 544.9L541.2 547.6L547.9 553.0L552.1 557.8L555.0 562.6L557.2 567.4L558.7 572.3L559.6 577.1L560.7 579.5L565.4 584.1L567.9 587.2L571.5 594.0L574.0 601.2L576.0 608.5L577.7 620.5L577.7 627.8L577.0 639.8L575.8 649.5L574.4 656.7L572.2 664.0L570.3 668.8L565.4 676.9L561.8 680.9L558.2 683.6L555.8 684.8ZM544.8 596.4L548.5 595.4L550.9 594.1L554.1 591.6L556.1 589.2L557.5 586.7L558.7 581.9L557.7 579.5L553.3 577.8L548.5 577.7L543.7 579.3L541.2 581.0L538.8 583.8L537.4 586.7L536.9 589.2L537.0 591.6L537.9 594.0L538.8 595.3L541.2 596.5Z"/>
<path fill="#00e3ff" fill-rule="evenodd" d="M483.2 672.1L480.7 672.7L478.3 672.6L473.5 670.8L471.1 669.0L468.6 666.4L465.5 661.6L463.5 656.7L462.2 651.9L460.1 639.8L456.8 625.4L456.0 618.1L455.7 608.5L456.0 601.2L456.9 594.0L462.4 574.7L464.8 569.9L468.0 565.0L474.2 557.8L483.2 550.6L492.8 545.4L502.5 542.4L512.2 541.3L521.9 541.9L531.6 544.4L536.4 546.5L541.2 549.5L547.6 555.4L550.9 560.2L553.2 565.0L554.5 569.9L554.4 572.3L552.8 574.7L543.7 578.4L541.2 580.1L538.8 582.7L536.6 586.7L535.9 589.2L535.7 591.6L536.2 596.4L535.8 598.8L524.3 601.5L517.0 604.8L496.2 618.1L490.3 622.9L488.2 625.4L485.8 630.2L485.7 635.0L487.6 639.8L491.9 647.1L492.7 649.5L493.0 654.3L491.4 661.6L489.3 666.4L488.0 668.4L485.6 670.8ZM553.3 683.3L548.5 683.8L543.7 682.4L541.2 680.8L539.0 678.4L537.4 676.0L535.4 671.2L533.6 664.0L530.6 649.5L529.9 642.2L530.2 639.8L531.9 635.0L538.7 622.9L541.8 615.7L542.4 610.9L542.2 608.5L539.7 601.2L543.2 598.8L546.1 598.0L550.9 595.8L560.6 588.9L563.0 589.2L565.4 591.1L567.5 594.0L570.3 599.8L572.7 606.6L574.4 613.3L575.4 620.5L575.7 627.8L575.2 637.4L574.3 647.1L573.1 654.3L571.2 661.6L568.4 668.8L565.4 673.8L561.6 678.4L558.2 681.1Z"/>
<path fill="#00f9ff" fill-rule="evenodd" d="M480.7 669.5L478.3 669.5L475.9 669.0L473.5 667.7L469.5 664.0L466.5 659.1L464.2 651.9L462.3 639.8L458.9 625.4L457.8 613.3L458.3 598.8L459.9 591.6L463.2 584.3L463.6 579.5L464.9 574.7L467.2 569.9L470.4 565.0L476.6 557.8L483.2 552.3L488.0 549.2L492.8 546.7L502.5 543.6L512.2 542.3L521.9 543.0L526.7 544.1L531.6 545.7L536.4 548.1L540.2 550.6L543.7 553.6L547.2 557.8L549.9 562.6L551.4 567.4L551.6 569.9L550.9 572.3L548.5 574.7L541.2 579.2L538.6 581.9L535.7 586.7L534.0 593.6L532.4 596.4L529.1 598.2L521.9 600.9L514.6 605.0L494.8 618.1L488.8 622.9L486.7 625.4L484.3 630.2L484.0 635.0L485.7 639.8L489.8 647.1L490.6 649.5L490.9 654.3L489.9 659.1L487.8 664.0L485.6 666.9L483.2 668.6ZM553.3 681.0L548.5 681.3L546.1 680.7L542.3 678.4L538.8 674.2L536.5 668.8L534.5 661.6L532.1 649.5L531.6 642.2L532.5 637.4L533.4 635.0L541.2 620.5L543.3 615.7L544.4 610.9L544.4 603.6L545.4 601.2L548.8 598.8L555.8 595.0L558.2 593.9L560.6 593.7L563.0 594.8L566.1 598.8L569.6 606.1L572.0 613.3L573.0 618.1L573.7 625.4L573.3 639.8L572.2 649.5L570.8 656.7L568.6 664.0L566.5 668.8L563.4 673.6L560.6 676.8L558.2 678.7Z"/>
<path fill="#11ffee" fill-rule="evenodd" d="M478.3 666.4L475.9 665.9L472.8 664.0L470.5 661.6L467.7 656.7L466.3 651.9L464.6 639.8L461.5 627.8L460.3 620.5L459.9 610.9L460.3 601.2L461.4 594.8L462.9 591.6L463.8 590.4L466.2 588.8L468.6 588.5L473.5 589.2L475.9 589.0L478.7 586.7L476.7 584.3L468.5 581.9L466.8 579.5L466.7 577.1L468.3 572.3L472.7 565.0L478.9 557.8L485.6 552.2L490.4 549.2L495.3 546.9L504.9 544.1L514.6 543.4L524.3 544.5L531.6 546.9L538.8 551.2L543.3 555.4L545.3 557.8L547.9 562.6L549.3 567.4L549.3 569.9L548.4 572.3L546.0 574.7L541.2 578.3L537.8 581.9L534.9 586.7L531.6 594.2L529.1 596.1L517.0 602.4L493.3 618.1L487.2 622.9L485.1 625.4L482.6 630.2L482.1 635.0L483.7 639.8L487.7 647.1L488.5 649.5L488.8 654.3L487.5 659.1L485.6 662.7L483.2 665.0L480.7 666.2ZM553.3 678.7L548.5 678.9L546.1 678.1L543.0 676.0L541.2 674.2L539.4 671.2L536.7 664.0L534.9 656.7L533.4 647.1L533.2 642.2L534.1 637.4L535.9 632.6L544.9 615.7L546.6 610.9L548.2 603.6L550.1 601.2L553.3 599.2L555.8 598.2L558.2 597.9L560.6 598.6L563.0 600.8L566.4 606.1L569.6 613.3L570.9 618.1L571.8 625.4L571.6 639.8L569.8 654.3L567.8 661.6L565.8 666.4L563.0 671.2L560.6 674.2L558.2 676.3Z"/>
<path fill="#27ffd8" fill-rule="evenodd" d="M480.7 662.7L478.3 663.1L475.9 662.6L473.5 661.1L470.2 656.7L468.5 651.9L467.2 639.8L463.8 627.6L462.5 620.5L462.1 613.3L462.5 603.6L463.7 596.4L464.9 594.0L466.2 592.6L468.6 591.6L475.9 591.0L478.3 590.2L479.9 589.2L481.1 586.7L479.8 584.3L478.3 583.2L470.8 579.5L469.7 577.1L469.9 574.7L470.7 572.3L474.8 565.0L480.9 557.8L488.0 552.0L495.3 548.1L504.9 545.1L512.2 544.3L521.9 545.1L529.1 547.1L536.4 550.9L541.2 555.1L543.5 557.8L545.0 560.2L547.0 565.0L547.4 569.9L546.4 572.3L537.0 581.9L531.6 591.6L529.4 594.0L517.0 601.2L504.9 609.8L491.6 618.1L488.2 620.5L483.4 625.4L480.8 630.2L480.0 635.0L481.4 639.8L485.6 647.4L486.6 651.9L486.4 654.3L485.8 656.7L484.6 659.1L483.2 661.1ZM553.3 676.3L550.9 676.7L548.5 676.4L546.1 675.5L543.6 673.6L540.2 668.8L538.3 664.0L536.3 656.7L535.1 649.5L534.7 642.2L535.5 637.4L537.3 632.6L546.7 615.7L550.9 606.5L553.3 603.7L555.8 602.7L558.2 602.9L560.6 604.2L563.0 606.7L565.4 610.1L567.9 615.3L569.3 620.5L569.9 625.4L570.1 637.4L568.7 651.9L567.0 659.1L565.2 664.0L563.0 668.2L560.6 671.5L558.2 673.8Z"/>
<path fill="#3effc1" fill-rule="evenodd" d="M478.3 659.4L475.9 658.9L473.5 656.9L471.1 652.0L470.4 647.1L470.3 637.4L466.2 626.8L464.7 618.1L464.7 610.9L465.4 603.6L466.3 598.8L467.4 596.4L468.6 595.1L470.7 594.0L475.9 593.0L479.2 591.6L482.0 589.2L482.7 586.7L481.8 584.3L480.7 583.3L474.7 579.5L472.6 577.1L472.4 574.7L474.1 569.9L478.5 562.6L485.4 555.4L492.5 550.6L500.1 547.3L509.8 545.4L517.0 545.4L524.3 546.6L531.6 549.3L536.4 552.3L538.8 554.4L543.4 560.2L545.4 565.0L545.8 567.4L545.7 569.9L544.8 572.3L536.4 581.7L531.6 589.6L529.1 592.5L517.0 600.1L502.5 610.6L486.3 620.5L481.3 625.4L478.3 630.2L477.2 632.6L476.8 635.0L477.1 637.4L482.8 647.1L483.9 651.9L483.6 654.3L482.5 656.7L480.7 658.6ZM553.3 674.0L550.9 674.3L548.5 673.9L546.1 672.8L543.7 670.6L541.2 667.0L539.1 661.6L537.3 654.3L536.3 647.1L536.2 642.2L537.0 637.4L538.7 632.6L546.1 619.6L550.9 612.2L553.3 609.5L555.8 608.2L558.2 608.2L560.6 609.3L563.0 611.6L565.4 615.4L567.3 620.5L568.5 630.2L568.3 642.2L566.7 654.3L565.4 659.1L563.5 664.0L560.6 668.7L558.2 671.2L555.8 673.0Z"/>
<path fill="#54ffab" fill-rule="evenodd" d="M475.9 628.0L473.5 629.4L471.1 628.4L469.2 625.4L467.8 620.5L467.6 613.3L468.6 605.9L471.1 598.8L473.8 596.4L480.7 592.6L483.6 589.2L484.1 586.7L483.4 584.3L475.4 577.1L474.8 574.7L475.3 572.3L477.3 567.4L482.2 560.2L487.2 555.4L492.8 551.5L500.1 548.3L507.4 546.5L514.6 546.1L521.9 546.9L529.1 549.2L535.5 553.0L538.8 556.0L542.0 560.2L544.0 565.0L544.2 569.9L543.3 572.3L541.6 574.7L536.4 580.7L531.6 588.0L529.1 590.9L526.7 592.8L517.0 599.0L504.9 608.1L483.9 620.5ZM553.3 671.6L550.9 671.8L548.5 671.4L546.1 670.0L543.7 667.4L541.7 664.0L538.7 654.3L537.7 647.1L537.7 642.2L538.4 637.4L540.0 632.6L546.1 622.1L550.9 615.8L553.3 613.6L555.8 612.4L558.2 612.4L560.6 613.6L563.0 616.2L565.9 622.9L567.0 632.6L566.7 644.7L565.2 654.3L562.8 661.6L560.6 665.7L558.2 668.6L555.8 670.5ZM478.3 653.6L475.9 652.8L475.4 651.9L474.8 649.5L475.2 647.1L475.9 646.0L478.3 647.0L479.4 649.5L479.5 651.9Z"/>
<path fill="#6bff94" fill-rule="evenodd" d="M478.3 621.8L475.9 622.9L473.5 622.7L471.9 620.5L471.1 618.1L471.1 613.3L472.3 608.5L475.4 601.2L476.9 598.8L483.2 592.2L484.9 589.2L485.4 586.7L484.6 584.3L483.2 582.3L477.9 577.1L477.1 574.7L477.3 572.3L479.1 567.4L483.8 560.2L488.8 555.4L495.3 551.3L502.5 548.4L509.8 547.1L517.0 547.0L524.3 548.4L531.6 551.5L536.4 555.0L538.9 557.8L541.8 562.6L543.0 567.4L542.9 569.9L542.1 572.3L540.5 574.7L529.1 589.4L502.5 609.0L495.3 613.2L484.8 618.1ZM553.3 669.1L550.9 669.3L548.5 668.7L546.1 667.1L543.7 664.0L541.5 659.1L540.2 654.3L539.1 647.1L539.1 642.2L539.8 637.4L541.2 633.1L546.1 624.5L550.9 618.7L553.3 616.8L555.8 615.9L558.2 616.1L560.6 617.5L562.8 620.5L564.4 625.4L565.4 633.3L565.2 644.7L563.7 654.3L561.0 661.6L558.2 665.8L555.8 667.9Z"/>
<path fill="#82ff7d" fill-rule="evenodd" d="M485.6 616.1L480.7 617.3L478.3 617.3L476.2 615.7L475.7 613.3L476.4 608.5L479.1 601.2L486.1 589.2L486.4 586.7L485.9 584.3L480.0 577.1L479.1 574.7L479.2 572.3L480.8 567.4L482.0 565.0L485.4 560.2L490.4 555.4L495.3 552.3L502.5 549.3L509.8 547.9L517.0 547.9L524.3 549.3L529.1 551.2L534.0 554.3L537.6 557.8L540.6 562.6L541.8 567.4L541.7 569.9L539.5 574.7L531.6 585.3L526.7 590.3L517.0 597.0L502.5 608.2L495.3 612.3ZM553.3 666.5L550.9 666.7L548.5 665.9L546.1 663.9L543.7 660.1L541.2 651.9L540.6 642.2L542.0 635.0L543.7 631.1L546.1 627.0L550.9 621.4L553.3 619.7L555.8 619.0L558.2 619.5L559.5 620.5L560.6 621.7L562.4 625.4L563.7 632.6L563.9 642.2L562.7 651.9L560.6 658.6L558.2 662.7L555.8 665.2Z"/>
<path fill="#98ff67" fill-rule="evenodd" d="M488.0 613.8L483.2 614.1L481.1 613.3L479.8 610.9L480.2 606.1L481.6 601.2L486.3 591.6L487.2 589.2L487.5 586.7L487.0 584.3L485.6 581.8L481.8 577.1L481.0 574.7L481.4 569.9L482.3 567.4L484.9 562.6L489.1 557.8L495.3 553.3L500.1 551.0L507.4 549.0L514.6 548.5L519.5 548.9L526.7 551.0L531.6 553.6L536.4 557.9L538.1 560.2L540.2 565.0L540.5 569.9L539.8 572.3L536.8 577.1L531.6 584.1L526.7 589.2L517.0 596.1L507.4 603.9L497.7 610.2L492.8 612.4ZM555.8 662.2L553.3 663.6L550.9 663.9L548.5 662.9L546.1 660.4L543.4 654.3L542.4 649.5L542.1 644.7L542.9 637.4L543.7 634.8L546.1 629.8L548.5 626.5L550.9 624.1L553.3 622.6L555.8 622.2L558.2 623.2L560.6 626.8L562.0 632.6L562.4 639.8L561.9 647.1L560.6 653.7L558.3 659.1Z"/>
<path fill="#afff50" fill-rule="evenodd" d="M492.8 611.3L488.0 612.2L485.6 612.0L483.6 610.9L482.6 608.5L482.5 606.1L483.5 601.2L488.0 589.9L488.5 586.7L488.0 584.3L483.5 577.1L482.7 574.7L483.0 569.9L484.8 565.0L486.3 562.6L490.5 557.8L495.3 554.3L500.1 551.8L507.4 549.7L514.6 549.2L519.5 549.7L526.7 551.9L531.6 554.7L535.1 557.8L536.9 560.2L539.1 565.0L539.5 569.9L538.8 572.3L535.9 577.1L531.6 583.0L526.7 588.1L502.5 606.6L497.7 609.4ZM553.3 660.5L550.9 660.7L548.5 659.5L546.1 656.1L544.1 649.5L543.8 642.2L545.4 635.0L548.5 629.4L550.9 627.0L553.3 625.7L555.8 625.7L558.2 627.7L560.0 632.6L560.6 637.4L560.6 644.7L559.8 649.5L558.2 655.0L555.8 658.8Z"/>
<path fill="#c5ff3a" fill-rule="evenodd" d="M497.7 608.5L492.8 610.2L490.4 610.7L488.0 610.5L485.2 608.5L484.6 606.1L485.0 601.2L488.5 591.6L489.4 586.7L489.0 584.3L488.0 581.9L485.0 577.1L484.2 574.7L484.4 569.9L486.2 565.0L489.5 560.2L492.8 557.0L497.7 553.8L504.9 551.0L512.2 550.0L517.0 550.1L524.3 551.8L529.1 554.1L534.0 558.0L536.4 561.3L538.1 565.0L538.4 569.9L536.7 574.7L531.6 581.9L526.7 587.1L504.9 604.1ZM553.3 656.8L550.9 657.0L548.5 655.1L546.1 649.5L545.7 644.7L546.1 639.5L548.5 633.3L550.9 630.4L553.3 629.3L555.8 630.1L557.3 632.6L558.2 635.0L558.7 642.2L558.2 648.0L557.0 651.9L555.8 654.5Z"/>
<path fill="#dcff23" fill-rule="evenodd" d="M495.3 608.6L490.4 609.2L488.0 608.4L486.5 606.1L486.5 601.2L490.1 589.2L490.3 586.7L489.0 581.9L486.4 577.1L485.5 572.3L486.4 567.4L488.8 562.6L492.8 558.2L496.6 555.4L502.5 552.5L507.4 551.2L514.6 550.7L519.5 551.2L524.3 552.6L529.1 555.0L532.6 557.8L534.7 560.2L537.0 565.0L537.5 569.9L536.9 572.3L534.3 577.1L529.1 583.7L524.3 588.1L504.9 603.3L500.1 606.4ZM553.3 651.5L550.9 651.8L548.5 647.6L548.2 644.7L548.5 640.6L549.8 637.4L550.9 635.5L553.3 634.6L555.5 637.4L556.2 642.2L555.7 647.1Z"/>
<path fill="#f2ff0d" fill-rule="evenodd" d="M497.7 606.7L492.8 607.9L490.4 607.5L488.6 606.1L487.8 603.6L488.3 598.8L490.4 591.6L491.2 586.7L490.4 582.8L487.0 574.7L487.0 569.9L488.6 565.0L492.0 560.2L494.6 557.8L500.1 554.3L504.9 552.5L509.8 551.6L517.0 551.6L521.9 552.5L526.7 554.5L531.4 557.8L535.1 562.6L536.5 567.4L536.5 569.9L534.9 574.7L531.6 579.8L526.7 585.2L504.9 602.4Z"/>
<path fill="#fff500" fill-rule="evenodd" d="M495.3 606.4L492.8 606.5L490.4 605.3L489.5 603.6L489.2 601.2L492.1 586.7L491.1 581.9L488.3 574.7L488.0 572.3L488.7 567.4L491.2 562.6L493.2 560.2L497.7 556.6L502.5 554.1L507.4 552.7L512.2 552.1L517.0 552.3L521.9 553.3L526.8 555.4L530.2 557.8L532.5 560.2L535.1 565.0L535.6 569.9L535.1 572.3L532.7 577.1L526.6 584.3L507.4 599.7L500.1 604.6Z"/>
<path fill="#ffde00" fill-rule="evenodd" d="M500.1 603.8L495.3 605.2L492.8 604.8L491.4 603.6L490.6 601.2L490.6 598.8L492.9 586.7L492.7 584.3L489.4 574.7L489.2 572.3L489.9 567.4L490.9 565.0L494.4 560.2L497.3 557.8L501.4 555.4L504.9 554.0L509.8 553.0L514.6 552.7L519.5 553.4L525.2 555.4L529.0 557.8L531.4 560.2L534.1 565.0L534.7 569.9L533.2 574.7L530.1 579.5L525.5 584.3L504.9 600.7Z"/>
<path fill="#ffc800" fill-rule="evenodd" d="M497.7 603.7L494.4 603.6L492.8 602.6L492.1 601.2L492.1 596.4L493.8 586.7L493.0 581.9L491.3 577.1L490.3 572.3L491.0 567.4L492.0 565.0L495.3 560.6L498.6 557.8L502.5 555.7L507.4 554.1L512.2 553.4L517.0 553.6L521.9 554.8L526.7 557.1L530.4 560.2L532.1 562.6L533.8 567.4L533.4 572.3L531.0 577.1L527.1 581.9L521.9 586.5L504.9 599.8L502.5 601.5Z"/>
<path fill="#ffb100" fill-rule="evenodd" d="M500.1 601.7L497.7 602.4L495.3 602.2L494.0 601.2L493.2 598.8L494.6 586.7L493.9 581.9L491.7 574.7L491.4 572.3L492.0 567.4L493.1 565.0L496.8 560.2L500.0 557.8L507.4 554.8L512.2 554.1L517.0 554.3L521.5 555.4L524.3 556.6L529.3 560.2L532.3 565.0L533.0 569.9L531.6 574.7L528.4 579.5L524.3 583.7L504.9 599.0Z"/>
<path fill="#ff9b00" fill-rule="evenodd" d="M502.5 599.5L497.7 601.1L495.3 599.9L494.7 598.8L494.4 596.4L495.3 589.2L495.3 584.3L492.5 572.3L493.1 567.4L494.1 565.0L495.7 562.6L500.1 558.7L502.5 557.3L507.4 555.5L512.2 554.8L517.0 555.0L521.9 556.3L524.3 557.4L528.2 560.2L530.2 562.6L531.4 565.0L532.1 569.9L530.7 574.7L527.5 579.5L524.3 582.8L507.4 596.2Z"/>
<path fill="#ff8400" fill-rule="evenodd" d="M500.1 599.3L497.7 599.3L496.9 598.8L495.8 596.4L496.2 584.3L493.5 572.3L494.1 567.4L495.2 565.0L496.8 562.6L500.1 559.6L503.1 557.8L507.4 556.2L512.2 555.4L517.0 555.7L521.9 557.0L524.3 558.2L527.0 560.2L529.2 562.6L531.1 567.4L530.8 572.3L529.1 576.0L526.6 579.5L521.5 584.3L504.9 597.0Z"/>
<path fill="#ff6e00" fill-rule="evenodd" d="M502.5 597.2L500.1 597.8L497.4 596.4L497.0 594.0L497.1 584.3L494.5 572.3L495.1 567.4L496.2 565.0L497.9 562.6L500.6 560.2L504.8 557.8L507.4 556.9L514.6 556.1L519.5 556.9L521.9 557.8L526.7 561.0L529.6 565.0L530.4 569.9L529.1 574.7L525.7 579.5L521.9 583.1L507.4 594.3Z"/>
<path fill="#ff5700" fill-rule="evenodd" d="M504.9 594.7L502.5 595.8L500.1 596.0L498.6 594.0L498.0 584.3L495.5 572.3L496.1 567.4L497.3 565.0L499.1 562.6L501.9 560.2L507.4 557.7L514.6 556.8L519.5 557.7L521.9 558.6L524.6 560.2L526.7 562.1L528.6 565.0L529.4 567.4L529.6 569.9L528.2 574.7L524.8 579.5L521.9 582.3Z"/>
<path fill="#ff4000" fill-rule="evenodd" d="M502.5 594.3L500.1 593.0L499.7 591.6L498.9 584.3L496.8 574.7L496.6 569.9L498.3 565.0L500.2 562.6L503.4 560.2L509.8 557.8L517.0 557.8L519.5 558.4L523.2 560.2L526.7 563.5L528.5 567.4L528.7 569.9L528.3 572.3L526.7 575.8L523.9 579.5L518.3 584.3L507.4 592.1Z"/>
<path fill="#ff2a00" fill-rule="evenodd" d="M504.9 592.1L502.5 592.2L501.8 591.6L500.7 589.2L497.7 574.7L497.6 569.9L499.4 565.0L501.5 562.6L504.9 560.2L509.8 558.6L514.6 558.2L517.0 558.5L521.8 560.2L525.0 562.6L526.7 565.0L527.6 567.4L527.8 569.9L526.5 574.7L522.9 579.5L519.5 582.6L509.8 589.5Z"/>
<path fill="#ff1300" fill-rule="evenodd" d="M507.4 589.7L504.9 590.4L502.4 589.2L498.7 574.7L498.6 569.9L499.2 567.4L500.5 565.0L502.5 562.8L507.4 560.0L509.8 559.3L514.6 559.0L519.5 560.0L523.8 562.6L525.7 565.0L526.7 567.4L527.0 569.9L526.6 572.3L524.3 576.8L521.9 579.6L514.6 585.3Z"/>
<path fill="#fc0000" fill-rule="evenodd" d="M509.8 587.4L507.4 588.4L504.9 588.5L503.1 586.7L500.1 576.7L499.4 572.3L499.6 569.9L500.2 567.4L501.7 565.0L504.9 562.1L509.8 560.1L514.6 559.7L517.0 560.0L521.9 562.2L524.7 565.0L525.8 567.4L526.1 569.9L525.7 572.3L524.3 575.4L520.9 579.5L514.6 584.5Z"/>
<path fill="#e50000" fill-rule="evenodd" d="M507.4 586.9L504.9 586.4L502.5 581.8L500.4 572.3L501.3 567.4L502.8 565.0L504.9 563.1L509.8 560.9L514.6 560.5L519.5 561.7L521.9 563.3L523.6 565.0L524.8 567.4L525.2 569.9L524.8 572.3L523.8 574.7L521.9 577.4L517.0 581.8L512.2 585.0Z"/>
<path fill="#cf0000" fill-rule="evenodd" d="M509.8 584.9L507.4 585.3L505.5 584.3L503.9 581.9L501.7 574.7L501.7 569.9L502.4 567.4L504.9 564.3L507.4 562.7L509.8 561.8L514.6 561.3L519.4 562.6L522.4 565.0L523.8 567.4L524.2 569.9L523.9 572.3L521.9 576.1L518.7 579.5L514.6 582.5Z"/>
<path fill="#b80000" fill-rule="evenodd" d="M512.2 582.8L509.8 583.6L507.4 583.5L504.9 581.2L502.8 574.7L502.7 569.9L503.7 567.4L504.9 565.7L507.4 563.8L510.0 562.6L514.6 562.2L517.0 562.6L521.1 565.0L522.7 567.4L523.2 569.9L522.9 572.3L521.9 574.6L520.0 577.1L517.0 579.8Z"/>
<path fill="#a10000" fill-rule="evenodd" d="M509.8 582.2L507.4 581.6L504.9 578.2L503.9 574.7L503.9 569.9L504.9 567.4L507.2 565.0L509.8 563.7L514.6 563.1L517.0 563.7L519.6 565.0L521.5 567.4L522.1 569.9L521.9 572.3L519.5 576.4L517.0 578.7L512.2 581.6Z"/>
<path fill="#8b0000" fill-rule="evenodd" d="M512.2 580.3L509.8 580.6L507.4 579.4L505.1 574.7L504.8 572.3L505.2 569.9L506.4 567.4L509.4 565.0L512.2 564.2L514.6 564.2L517.5 565.0L520.1 567.4L520.9 569.9L520.7 572.3L519.6 574.7L517.4 577.1L514.6 579.2Z"/>
</g></g>
<text x="296" y="526.3" font-size="15.3" text-anchor="start" font-weight="bold" fill="#fff" textLength="17.3" lengthAdjust="spacingAndGlyphs">(c)</text>
<text x="607.7" y="526.3" font-size="15.3" text-anchor="start" font-weight="bold" fill="#fff" textLength="17.7" lengthAdjust="spacingAndGlyphs">(d)</text>
</svg>
</body></html>
